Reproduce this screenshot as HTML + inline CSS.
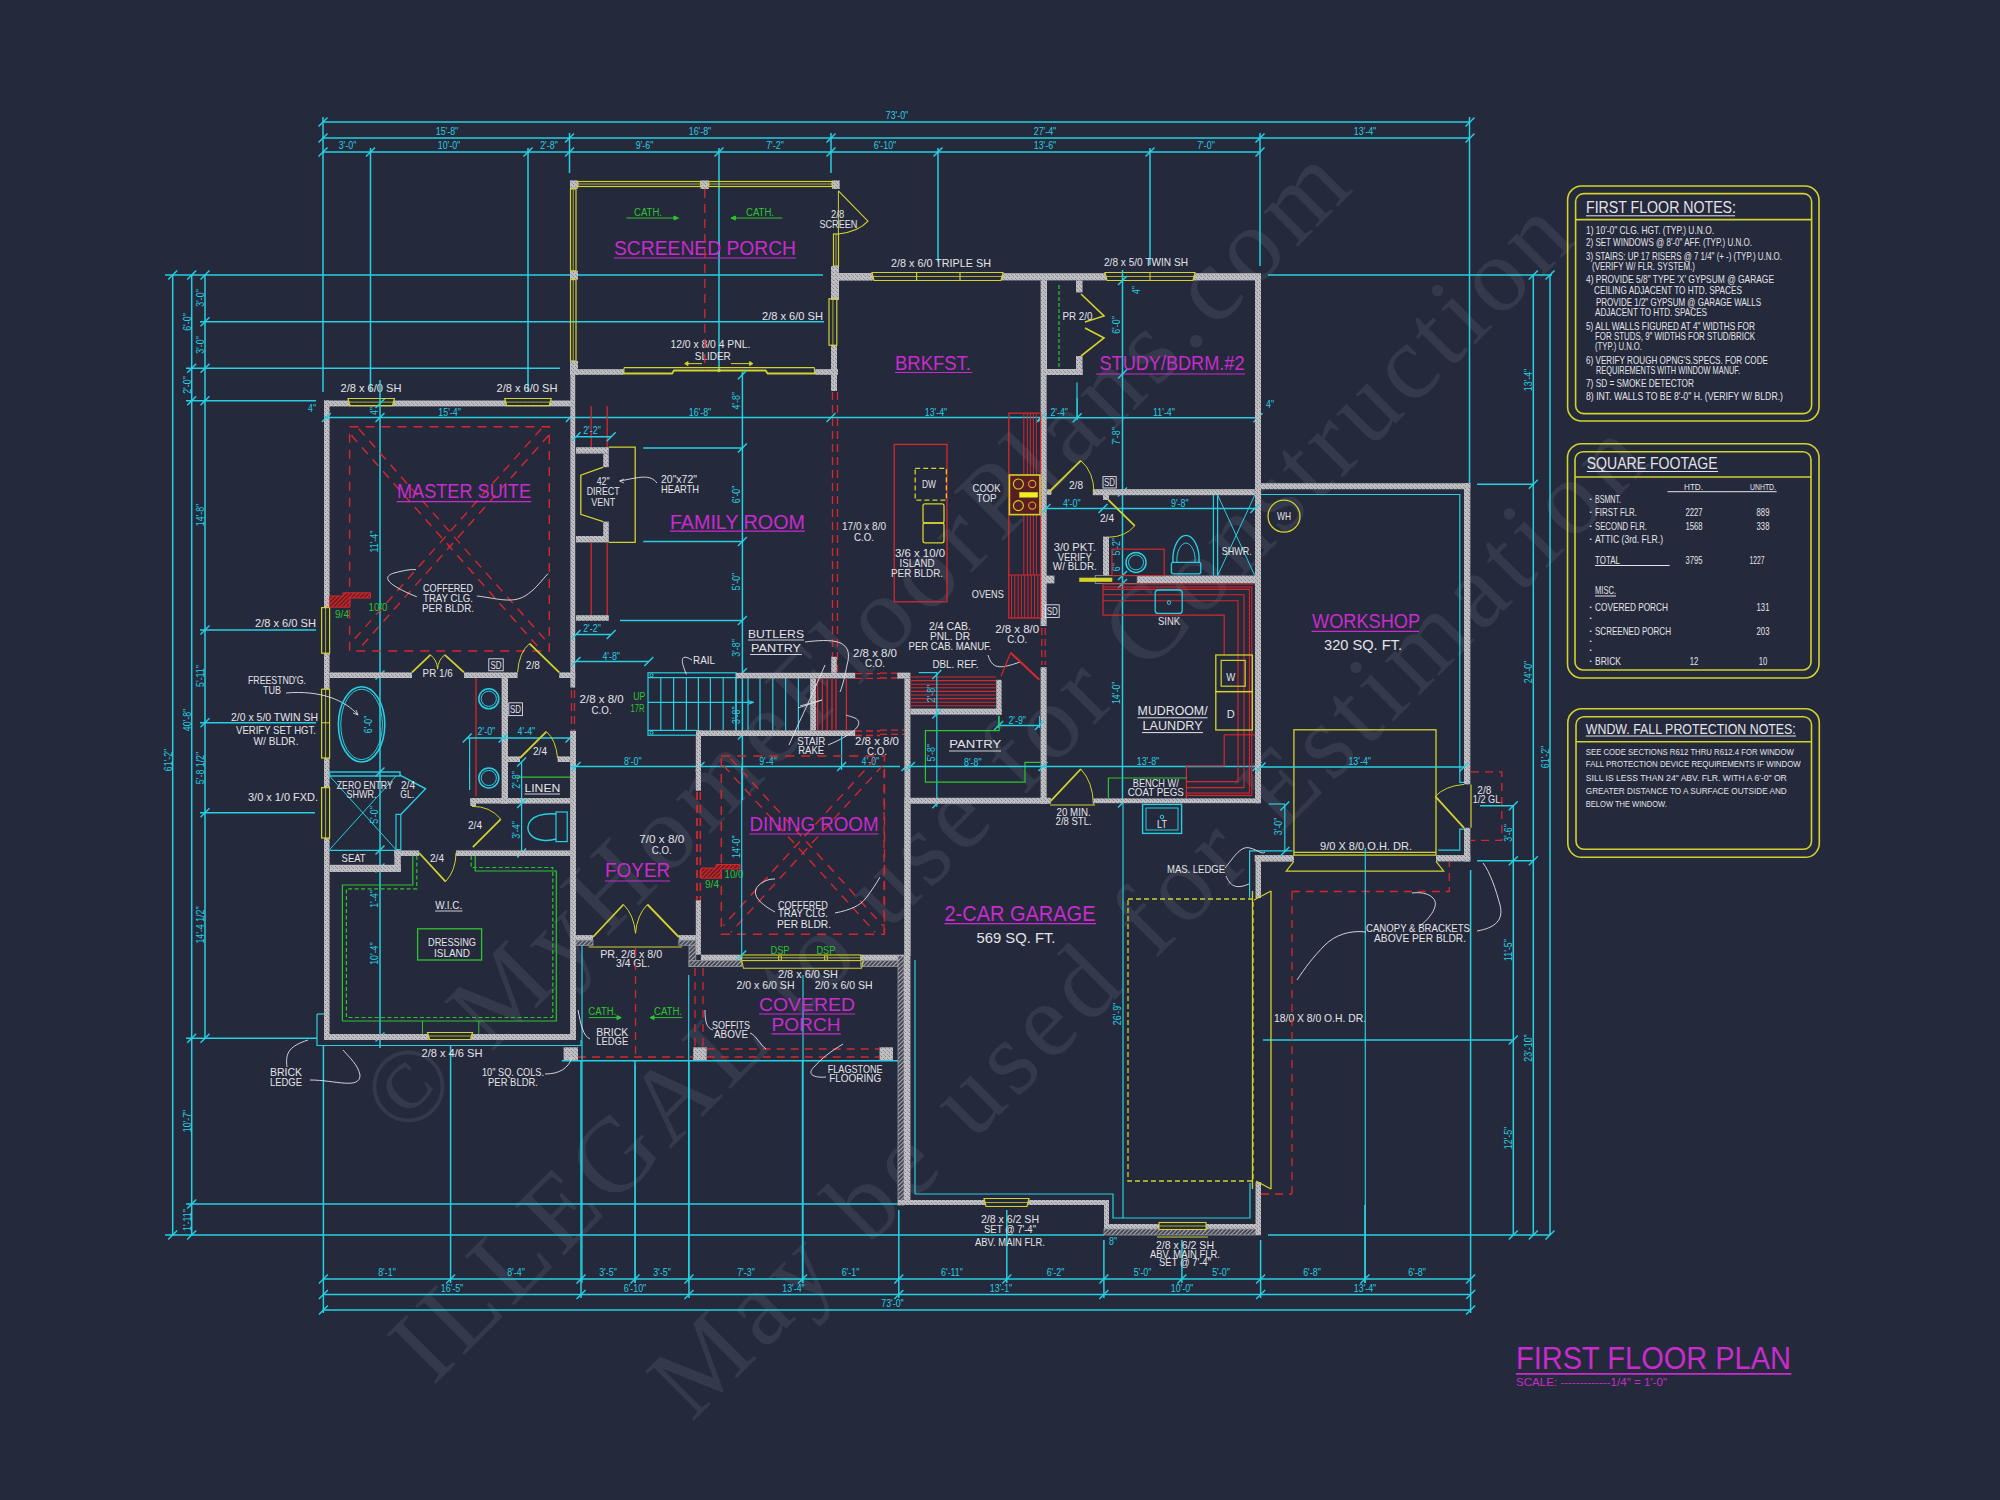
<!DOCTYPE html>
<html><head><meta charset="utf-8"><style>
html,body{margin:0;padding:0;background:#24293c;width:2000px;height:1500px;overflow:hidden}
svg{display:block}
text{font-family:"Liberation Sans",sans-serif}
.wm text{font-family:"Liberation Serif",serif}
</style></head><body>
<svg width="2000" height="1500" viewBox="0 0 2000 1500">
<defs>
<pattern id="st" width="4" height="4" patternUnits="userSpaceOnUse">
<rect width="4" height="4" fill="#bfbfc3"/><rect x="1" y="0" width="1" height="1" fill="#808088"/><rect x="3" y="2" width="1" height="1" fill="#8a8a90"/><rect x="0" y="3" width="1" height="1" fill="#9a9aa0"/>
</pattern>
<pattern id="ht" width="3" height="3" patternUnits="userSpaceOnUse" patternTransform="rotate(45)">
<rect width="3" height="3" fill="#3a3d4c"/><rect width="1.2" height="3" fill="#a8a8ae"/>
</pattern>
<pattern id="rh" width="3" height="3" patternUnits="userSpaceOnUse" patternTransform="rotate(45)"><rect width="3" height="3" fill="#5a1c24"/><rect width="1.3" height="3" fill="#e02828"/></pattern>
</defs>
<rect width="2000" height="1500" fill="#24293c"/>
<g class="wm" font-size="106" fill="#c4c8dc" opacity="0.10">
<text letter-spacing="7.68" transform="translate(404.6 1139.6) rotate(-45)">© MyHomeFloorPlans.com</text>
<text letter-spacing="5.8" transform="translate(432.9 1386.4) rotate(-45)">ILLEGAL to use for Construction</text>
<text letter-spacing="7.15" transform="translate(692.1 1422.7) rotate(-45)">May be used for Estimation</text>
</g>
<line x1="323" y1="122" x2="1470" y2="122" stroke="#27cfe0" stroke-width="1.5"/>
<line x1="318.5" y1="126.5" x2="327.5" y2="117.5" stroke="#27cfe0" stroke-width="1.4"/>
<line x1="1465.5" y1="126.5" x2="1474.5" y2="117.5" stroke="#27cfe0" stroke-width="1.4"/>
<text x="897" y="119.3" font-size="10.5" fill="#27cfe0" text-anchor="middle" textLength="22.5" lengthAdjust="spacingAndGlyphs">73'-0"</text>
<line x1="323" y1="138" x2="1470" y2="138" stroke="#27cfe0" stroke-width="1.5"/>
<line x1="318.5" y1="142.5" x2="327.5" y2="133.5" stroke="#27cfe0" stroke-width="1.4"/>
<line x1="565" y1="142.5" x2="574" y2="133.5" stroke="#27cfe0" stroke-width="1.4"/>
<line x1="826.5" y1="142.5" x2="835.5" y2="133.5" stroke="#27cfe0" stroke-width="1.4"/>
<line x1="1255.5" y1="142.5" x2="1264.5" y2="133.5" stroke="#27cfe0" stroke-width="1.4"/>
<line x1="1465.5" y1="142.5" x2="1474.5" y2="133.5" stroke="#27cfe0" stroke-width="1.4"/>
<text x="447" y="135.3" font-size="10.5" fill="#27cfe0" text-anchor="middle" textLength="22.5" lengthAdjust="spacingAndGlyphs">15'-8"</text>
<text x="700" y="135.3" font-size="10.5" fill="#27cfe0" text-anchor="middle" textLength="22.5" lengthAdjust="spacingAndGlyphs">16'-8"</text>
<text x="1045" y="135.3" font-size="10.5" fill="#27cfe0" text-anchor="middle" textLength="22.5" lengthAdjust="spacingAndGlyphs">27'-4"</text>
<text x="1365" y="135.3" font-size="10.5" fill="#27cfe0" text-anchor="middle" textLength="22.5" lengthAdjust="spacingAndGlyphs">13'-4"</text>
<line x1="323" y1="152" x2="1260" y2="152" stroke="#27cfe0" stroke-width="1.5"/>
<line x1="318.5" y1="156.5" x2="327.5" y2="147.5" stroke="#27cfe0" stroke-width="1.4"/>
<line x1="366" y1="156.5" x2="375" y2="147.5" stroke="#27cfe0" stroke-width="1.4"/>
<line x1="523.5" y1="156.5" x2="532.5" y2="147.5" stroke="#27cfe0" stroke-width="1.4"/>
<line x1="565" y1="156.5" x2="574" y2="147.5" stroke="#27cfe0" stroke-width="1.4"/>
<line x1="714.5" y1="156.5" x2="723.5" y2="147.5" stroke="#27cfe0" stroke-width="1.4"/>
<line x1="826.5" y1="156.5" x2="835.5" y2="147.5" stroke="#27cfe0" stroke-width="1.4"/>
<line x1="933.5" y1="156.5" x2="942.5" y2="147.5" stroke="#27cfe0" stroke-width="1.4"/>
<line x1="1145.5" y1="156.5" x2="1154.5" y2="147.5" stroke="#27cfe0" stroke-width="1.4"/>
<line x1="1255.5" y1="156.5" x2="1264.5" y2="147.5" stroke="#27cfe0" stroke-width="1.4"/>
<text x="347.5" y="149.3" font-size="10.5" fill="#27cfe0" text-anchor="middle" textLength="17.6" lengthAdjust="spacingAndGlyphs">3'-0"</text>
<text x="449" y="149.3" font-size="10.5" fill="#27cfe0" text-anchor="middle" textLength="22.5" lengthAdjust="spacingAndGlyphs">10'-0"</text>
<text x="549" y="149.3" font-size="10.5" fill="#27cfe0" text-anchor="middle" textLength="17.6" lengthAdjust="spacingAndGlyphs">2'-8"</text>
<text x="644.5" y="149.3" font-size="10.5" fill="#27cfe0" text-anchor="middle" textLength="17.6" lengthAdjust="spacingAndGlyphs">9'-6"</text>
<text x="775" y="149.3" font-size="10.5" fill="#27cfe0" text-anchor="middle" textLength="17.6" lengthAdjust="spacingAndGlyphs">7'-2"</text>
<text x="885" y="149.3" font-size="10.5" fill="#27cfe0" text-anchor="middle" textLength="22.5" lengthAdjust="spacingAndGlyphs">6'-10"</text>
<text x="1045" y="149.3" font-size="10.5" fill="#27cfe0" text-anchor="middle" textLength="22.5" lengthAdjust="spacingAndGlyphs">13'-6"</text>
<text x="1206" y="149.3" font-size="10.5" fill="#27cfe0" text-anchor="middle" textLength="17.6" lengthAdjust="spacingAndGlyphs">7'-0"</text>
<line x1="323" y1="117" x2="323" y2="392" stroke="#27cfe0" stroke-width="1.5"/>
<line x1="370.5" y1="148" x2="370.5" y2="392" stroke="#27cfe0" stroke-width="1.5"/>
<line x1="528" y1="148" x2="528" y2="392" stroke="#27cfe0" stroke-width="1.5"/>
<line x1="569.5" y1="133" x2="569.5" y2="173" stroke="#27cfe0" stroke-width="1.5"/>
<line x1="719" y1="148" x2="719" y2="370" stroke="#27cfe0" stroke-width="1.5"/>
<line x1="831" y1="133" x2="831" y2="173" stroke="#27cfe0" stroke-width="1.5"/>
<line x1="938" y1="148" x2="938" y2="262" stroke="#27cfe0" stroke-width="1.5"/>
<line x1="1150" y1="148" x2="1150" y2="265" stroke="#27cfe0" stroke-width="1.5"/>
<line x1="1260" y1="133" x2="1260" y2="266" stroke="#27cfe0" stroke-width="1.5"/>
<line x1="1469.5" y1="117" x2="1469.5" y2="484" stroke="#27cfe0" stroke-width="1.5"/>
<line x1="172.7" y1="275" x2="172.7" y2="1235" stroke="#27cfe0" stroke-width="1.5"/>
<line x1="168.2" y1="279.5" x2="177.2" y2="270.5" stroke="#27cfe0" stroke-width="1.4"/>
<line x1="168.2" y1="1239.5" x2="177.2" y2="1230.5" stroke="#27cfe0" stroke-width="1.4"/>
<text x="171.5" y="760" font-size="10.5" fill="#27cfe0" text-anchor="middle" transform="rotate(-90 171.5 760)" textLength="22.5" lengthAdjust="spacingAndGlyphs">61'-2"</text>
<line x1="191.7" y1="275" x2="191.7" y2="1235" stroke="#27cfe0" stroke-width="1.5"/>
<line x1="187.2" y1="279.5" x2="196.2" y2="270.5" stroke="#27cfe0" stroke-width="1.4"/>
<line x1="187.2" y1="372.8" x2="196.2" y2="363.8" stroke="#27cfe0" stroke-width="1.4"/>
<line x1="187.2" y1="405.2" x2="196.2" y2="396.2" stroke="#27cfe0" stroke-width="1.4"/>
<line x1="187.2" y1="1042.8" x2="196.2" y2="1033.8" stroke="#27cfe0" stroke-width="1.4"/>
<line x1="187.2" y1="1208.5" x2="196.2" y2="1199.5" stroke="#27cfe0" stroke-width="1.4"/>
<line x1="187.2" y1="1239.5" x2="196.2" y2="1230.5" stroke="#27cfe0" stroke-width="1.4"/>
<text x="190.5" y="322" font-size="10.5" fill="#27cfe0" text-anchor="middle" transform="rotate(-90 190.5 322)" textLength="17.6" lengthAdjust="spacingAndGlyphs">6'-0"</text>
<text x="190.5" y="385" font-size="10.5" fill="#27cfe0" text-anchor="middle" transform="rotate(-90 190.5 385)" textLength="17.6" lengthAdjust="spacingAndGlyphs">2'-0"</text>
<text x="190.5" y="720" font-size="10.5" fill="#27cfe0" text-anchor="middle" transform="rotate(-90 190.5 720)" textLength="22.5" lengthAdjust="spacingAndGlyphs">40'-8"</text>
<text x="190.5" y="1121" font-size="10.5" fill="#27cfe0" text-anchor="middle" transform="rotate(-90 190.5 1121)" textLength="22.5" lengthAdjust="spacingAndGlyphs">10'-7"</text>
<text x="190.5" y="1220" font-size="10.5" fill="#27cfe0" text-anchor="middle" transform="rotate(-90 190.5 1220)" textLength="21.8" lengthAdjust="spacingAndGlyphs">1'-11"</text>
<line x1="205" y1="275" x2="205" y2="1038.3" stroke="#27cfe0" stroke-width="1.5"/>
<line x1="200.5" y1="279.5" x2="209.5" y2="270.5" stroke="#27cfe0" stroke-width="1.4"/>
<line x1="200.5" y1="326.2" x2="209.5" y2="317.2" stroke="#27cfe0" stroke-width="1.4"/>
<line x1="200.5" y1="372.8" x2="209.5" y2="363.8" stroke="#27cfe0" stroke-width="1.4"/>
<line x1="200.5" y1="405.2" x2="209.5" y2="396.2" stroke="#27cfe0" stroke-width="1.4"/>
<line x1="200.5" y1="634.5" x2="209.5" y2="625.5" stroke="#27cfe0" stroke-width="1.4"/>
<line x1="200.5" y1="727.2" x2="209.5" y2="718.2" stroke="#27cfe0" stroke-width="1.4"/>
<line x1="200.5" y1="817.2" x2="209.5" y2="808.2" stroke="#27cfe0" stroke-width="1.4"/>
<line x1="200.5" y1="1042.8" x2="209.5" y2="1033.8" stroke="#27cfe0" stroke-width="1.4"/>
<text x="203.8" y="298" font-size="10.5" fill="#27cfe0" text-anchor="middle" transform="rotate(-90 203.8 298)" textLength="17.6" lengthAdjust="spacingAndGlyphs">3'-0"</text>
<text x="203.8" y="345" font-size="10.5" fill="#27cfe0" text-anchor="middle" transform="rotate(-90 203.8 345)" textLength="17.6" lengthAdjust="spacingAndGlyphs">3'-0"</text>
<text x="203.8" y="515" font-size="10.5" fill="#27cfe0" text-anchor="middle" transform="rotate(-90 203.8 515)" textLength="22.5" lengthAdjust="spacingAndGlyphs">14'-8"</text>
<text x="203.8" y="676" font-size="10.5" fill="#27cfe0" text-anchor="middle" transform="rotate(-90 203.8 676)" textLength="21.8" lengthAdjust="spacingAndGlyphs">5'-11"</text>
<text x="203.8" y="768" font-size="10.5" fill="#27cfe0" text-anchor="middle" transform="rotate(-90 203.8 768)" textLength="32.3" lengthAdjust="spacingAndGlyphs">5'-8 1/2"</text>
<text x="203.8" y="925" font-size="10.5" fill="#27cfe0" text-anchor="middle" transform="rotate(-90 203.8 925)" textLength="37.2" lengthAdjust="spacingAndGlyphs">14'-4 1/2"</text>
<line x1="165" y1="275" x2="823" y2="275" stroke="#27cfe0" stroke-width="1.5"/>
<line x1="200" y1="321.7" x2="824" y2="321.7" stroke="#27cfe0" stroke-width="1.5"/>
<line x1="186" y1="368.3" x2="560" y2="368.3" stroke="#27cfe0" stroke-width="1.5"/>
<line x1="186" y1="400.7" x2="316" y2="400.7" stroke="#27cfe0" stroke-width="1.5"/>
<line x1="200" y1="630" x2="316" y2="630" stroke="#27cfe0" stroke-width="1.5"/>
<line x1="200" y1="722.7" x2="316" y2="722.7" stroke="#27cfe0" stroke-width="1.5"/>
<line x1="200" y1="812.7" x2="315" y2="812.7" stroke="#27cfe0" stroke-width="1.5"/>
<line x1="186" y1="1038.3" x2="317" y2="1038.3" stroke="#27cfe0" stroke-width="1.5"/>
<line x1="186" y1="1204" x2="898" y2="1204" stroke="#27cfe0" stroke-width="1.5"/>
<line x1="165" y1="1234.9" x2="1104" y2="1234.9" stroke="#27cfe0" stroke-width="1.5"/>
<line x1="323.4" y1="1279" x2="1470.6" y2="1279" stroke="#27cfe0" stroke-width="1.5"/>
<line x1="318.9" y1="1283.5" x2="327.9" y2="1274.5" stroke="#27cfe0" stroke-width="1.4"/>
<line x1="446.1" y1="1283.5" x2="455.1" y2="1274.5" stroke="#27cfe0" stroke-width="1.4"/>
<line x1="576.5" y1="1283.5" x2="585.5" y2="1274.5" stroke="#27cfe0" stroke-width="1.4"/>
<line x1="630.5" y1="1283.5" x2="639.5" y2="1274.5" stroke="#27cfe0" stroke-width="1.4"/>
<line x1="684.5" y1="1283.5" x2="693.5" y2="1274.5" stroke="#27cfe0" stroke-width="1.4"/>
<line x1="798" y1="1283.5" x2="807" y2="1274.5" stroke="#27cfe0" stroke-width="1.4"/>
<line x1="894.3" y1="1283.5" x2="903.3" y2="1274.5" stroke="#27cfe0" stroke-width="1.4"/>
<line x1="1002.3" y1="1283.5" x2="1011.3" y2="1274.5" stroke="#27cfe0" stroke-width="1.4"/>
<line x1="1099.4" y1="1283.5" x2="1108.4" y2="1274.5" stroke="#27cfe0" stroke-width="1.4"/>
<line x1="1177.4" y1="1283.5" x2="1186.4" y2="1274.5" stroke="#27cfe0" stroke-width="1.4"/>
<line x1="1256.1" y1="1283.5" x2="1265.1" y2="1274.5" stroke="#27cfe0" stroke-width="1.4"/>
<line x1="1360.4" y1="1283.5" x2="1369.4" y2="1274.5" stroke="#27cfe0" stroke-width="1.4"/>
<line x1="1466.1" y1="1283.5" x2="1475.1" y2="1274.5" stroke="#27cfe0" stroke-width="1.4"/>
<text x="387" y="1276.3" font-size="10.5" fill="#27cfe0" text-anchor="middle" textLength="17.6" lengthAdjust="spacingAndGlyphs">8'-1"</text>
<text x="516" y="1276.3" font-size="10.5" fill="#27cfe0" text-anchor="middle" textLength="17.6" lengthAdjust="spacingAndGlyphs">8'-4"</text>
<text x="608" y="1276.3" font-size="10.5" fill="#27cfe0" text-anchor="middle" textLength="17.6" lengthAdjust="spacingAndGlyphs">3'-5"</text>
<text x="662" y="1276.3" font-size="10.5" fill="#27cfe0" text-anchor="middle" textLength="17.6" lengthAdjust="spacingAndGlyphs">3'-5"</text>
<text x="746" y="1276.3" font-size="10.5" fill="#27cfe0" text-anchor="middle" textLength="17.6" lengthAdjust="spacingAndGlyphs">7'-3"</text>
<text x="850.5" y="1276.3" font-size="10.5" fill="#27cfe0" text-anchor="middle" textLength="17.6" lengthAdjust="spacingAndGlyphs">6'-1"</text>
<text x="952" y="1276.3" font-size="10.5" fill="#27cfe0" text-anchor="middle" textLength="21.8" lengthAdjust="spacingAndGlyphs">6'-11"</text>
<text x="1055.5" y="1276.3" font-size="10.5" fill="#27cfe0" text-anchor="middle" textLength="17.6" lengthAdjust="spacingAndGlyphs">6'-2"</text>
<text x="1142.5" y="1276.3" font-size="10.5" fill="#27cfe0" text-anchor="middle" textLength="17.6" lengthAdjust="spacingAndGlyphs">5'-0"</text>
<text x="1221" y="1276.3" font-size="10.5" fill="#27cfe0" text-anchor="middle" textLength="17.6" lengthAdjust="spacingAndGlyphs">5'-0"</text>
<text x="1312" y="1276.3" font-size="10.5" fill="#27cfe0" text-anchor="middle" textLength="17.6" lengthAdjust="spacingAndGlyphs">6'-8"</text>
<text x="1417" y="1276.3" font-size="10.5" fill="#27cfe0" text-anchor="middle" textLength="17.6" lengthAdjust="spacingAndGlyphs">6'-8"</text>
<line x1="323.4" y1="1294.6" x2="1470.6" y2="1294.6" stroke="#27cfe0" stroke-width="1.5"/>
<line x1="318.9" y1="1299.1" x2="327.9" y2="1290.1" stroke="#27cfe0" stroke-width="1.4"/>
<line x1="576.5" y1="1299.1" x2="585.5" y2="1290.1" stroke="#27cfe0" stroke-width="1.4"/>
<line x1="684.5" y1="1299.1" x2="693.5" y2="1290.1" stroke="#27cfe0" stroke-width="1.4"/>
<line x1="894.3" y1="1299.1" x2="903.3" y2="1290.1" stroke="#27cfe0" stroke-width="1.4"/>
<line x1="1099.4" y1="1299.1" x2="1108.4" y2="1290.1" stroke="#27cfe0" stroke-width="1.4"/>
<line x1="1256.1" y1="1299.1" x2="1265.1" y2="1290.1" stroke="#27cfe0" stroke-width="1.4"/>
<line x1="1466.1" y1="1299.1" x2="1475.1" y2="1290.1" stroke="#27cfe0" stroke-width="1.4"/>
<text x="452" y="1291.9" font-size="10.5" fill="#27cfe0" text-anchor="middle" textLength="22.5" lengthAdjust="spacingAndGlyphs">16'-5"</text>
<text x="635" y="1291.9" font-size="10.5" fill="#27cfe0" text-anchor="middle" textLength="22.5" lengthAdjust="spacingAndGlyphs">6'-10"</text>
<text x="793.5" y="1291.9" font-size="10.5" fill="#27cfe0" text-anchor="middle" textLength="22.5" lengthAdjust="spacingAndGlyphs">13'-4"</text>
<text x="1001" y="1291.9" font-size="10.5" fill="#27cfe0" text-anchor="middle" textLength="22.5" lengthAdjust="spacingAndGlyphs">13'-1"</text>
<text x="1182" y="1291.9" font-size="10.5" fill="#27cfe0" text-anchor="middle" textLength="22.5" lengthAdjust="spacingAndGlyphs">10'-0"</text>
<text x="1365" y="1291.9" font-size="10.5" fill="#27cfe0" text-anchor="middle" textLength="22.5" lengthAdjust="spacingAndGlyphs">13'-4"</text>
<line x1="323.4" y1="1310" x2="1470.6" y2="1310" stroke="#27cfe0" stroke-width="1.5"/>
<line x1="318.9" y1="1314.5" x2="327.9" y2="1305.5" stroke="#27cfe0" stroke-width="1.4"/>
<line x1="1466.1" y1="1314.5" x2="1475.1" y2="1305.5" stroke="#27cfe0" stroke-width="1.4"/>
<text x="892.5" y="1307.3" font-size="10.5" fill="#27cfe0" text-anchor="middle" textLength="22.5" lengthAdjust="spacingAndGlyphs">73'-0"</text>
<line x1="323.4" y1="1045" x2="323.4" y2="1283" stroke="#27cfe0" stroke-width="1.5"/>
<line x1="450.6" y1="1045" x2="450.6" y2="1283" stroke="#27cfe0" stroke-width="1.5"/>
<line x1="581" y1="1060" x2="581" y2="1283" stroke="#27cfe0" stroke-width="1.5"/>
<line x1="635" y1="1060" x2="635" y2="1283" stroke="#27cfe0" stroke-width="1.5"/>
<line x1="689" y1="1060" x2="689" y2="1283" stroke="#27cfe0" stroke-width="1.5"/>
<line x1="802.5" y1="1060" x2="802.5" y2="1283" stroke="#27cfe0" stroke-width="1.5"/>
<line x1="898.8" y1="1210" x2="898.8" y2="1283" stroke="#27cfe0" stroke-width="1.5"/>
<line x1="1006.8" y1="1210" x2="1006.8" y2="1283" stroke="#27cfe0" stroke-width="1.5"/>
<line x1="1103.9" y1="1240" x2="1103.9" y2="1283" stroke="#27cfe0" stroke-width="1.5"/>
<line x1="1181.9" y1="1240" x2="1181.9" y2="1283" stroke="#27cfe0" stroke-width="1.5"/>
<line x1="1260.6" y1="1240" x2="1260.6" y2="1283" stroke="#27cfe0" stroke-width="1.5"/>
<line x1="1364.9" y1="1205" x2="1364.9" y2="1283" stroke="#27cfe0" stroke-width="1.5"/>
<line x1="1470.6" y1="870" x2="1470.6" y2="1283" stroke="#27cfe0" stroke-width="1.5"/>
<line x1="323.4" y1="1283" x2="323.4" y2="1298" stroke="#27cfe0" stroke-width="1.5"/>
<line x1="581" y1="1283" x2="581" y2="1298" stroke="#27cfe0" stroke-width="1.5"/>
<line x1="689" y1="1283" x2="689" y2="1298" stroke="#27cfe0" stroke-width="1.5"/>
<line x1="898.8" y1="1283" x2="898.8" y2="1298" stroke="#27cfe0" stroke-width="1.5"/>
<line x1="1103.9" y1="1283" x2="1103.9" y2="1298" stroke="#27cfe0" stroke-width="1.5"/>
<line x1="1260.6" y1="1283" x2="1260.6" y2="1298" stroke="#27cfe0" stroke-width="1.5"/>
<line x1="1470.6" y1="1283" x2="1470.6" y2="1298" stroke="#27cfe0" stroke-width="1.5"/>
<line x1="323.4" y1="1298" x2="323.4" y2="1313" stroke="#27cfe0" stroke-width="1.5"/>
<line x1="1470.6" y1="1298" x2="1470.6" y2="1313" stroke="#27cfe0" stroke-width="1.5"/>
<line x1="1513.3" y1="805.7" x2="1513.3" y2="1235" stroke="#27cfe0" stroke-width="1.5"/>
<line x1="1508.8" y1="810.2" x2="1517.8" y2="801.2" stroke="#27cfe0" stroke-width="1.4"/>
<line x1="1508.8" y1="865.2" x2="1517.8" y2="856.2" stroke="#27cfe0" stroke-width="1.4"/>
<line x1="1508.8" y1="1044.5" x2="1517.8" y2="1035.5" stroke="#27cfe0" stroke-width="1.4"/>
<line x1="1508.8" y1="1239.5" x2="1517.8" y2="1230.5" stroke="#27cfe0" stroke-width="1.4"/>
<text x="1512.1" y="833" font-size="10.5" fill="#27cfe0" text-anchor="middle" transform="rotate(-90 1512.1 833)" textLength="17.6" lengthAdjust="spacingAndGlyphs">3'-6"</text>
<text x="1512.1" y="950" font-size="10.5" fill="#27cfe0" text-anchor="middle" transform="rotate(-90 1512.1 950)" textLength="21.8" lengthAdjust="spacingAndGlyphs">11'-5"</text>
<text x="1512.1" y="1138" font-size="10.5" fill="#27cfe0" text-anchor="middle" transform="rotate(-90 1512.1 1138)" textLength="22.5" lengthAdjust="spacingAndGlyphs">12'-5"</text>
<line x1="1533.3" y1="275" x2="1533.3" y2="1235" stroke="#27cfe0" stroke-width="1.5"/>
<line x1="1528.8" y1="279.5" x2="1537.8" y2="270.5" stroke="#27cfe0" stroke-width="1.4"/>
<line x1="1528.8" y1="488.8" x2="1537.8" y2="479.8" stroke="#27cfe0" stroke-width="1.4"/>
<line x1="1528.8" y1="865.2" x2="1537.8" y2="856.2" stroke="#27cfe0" stroke-width="1.4"/>
<line x1="1528.8" y1="1239.5" x2="1537.8" y2="1230.5" stroke="#27cfe0" stroke-width="1.4"/>
<text x="1532.1" y="380" font-size="10.5" fill="#27cfe0" text-anchor="middle" transform="rotate(-90 1532.1 380)" textLength="22.5" lengthAdjust="spacingAndGlyphs">13'-4"</text>
<text x="1532.1" y="672" font-size="10.5" fill="#27cfe0" text-anchor="middle" transform="rotate(-90 1532.1 672)" textLength="22.5" lengthAdjust="spacingAndGlyphs">24'-0"</text>
<text x="1532.1" y="1048" font-size="10.5" fill="#27cfe0" text-anchor="middle" transform="rotate(-90 1532.1 1048)" textLength="27.4" lengthAdjust="spacingAndGlyphs">23'-10"</text>
<line x1="1550" y1="275" x2="1550" y2="1235" stroke="#27cfe0" stroke-width="1.5"/>
<line x1="1545.5" y1="279.5" x2="1554.5" y2="270.5" stroke="#27cfe0" stroke-width="1.4"/>
<line x1="1545.5" y1="1239.5" x2="1554.5" y2="1230.5" stroke="#27cfe0" stroke-width="1.4"/>
<text x="1548.8" y="757" font-size="10.5" fill="#27cfe0" text-anchor="middle" transform="rotate(-90 1548.8 757)" textLength="22.5" lengthAdjust="spacingAndGlyphs">61'-2"</text>
<line x1="1268" y1="275" x2="1552" y2="275" stroke="#27cfe0" stroke-width="1.5"/>
<line x1="1477" y1="484.3" x2="1533" y2="484.3" stroke="#27cfe0" stroke-width="1.5"/>
<line x1="1480" y1="805.7" x2="1513" y2="805.7" stroke="#27cfe0" stroke-width="1.5"/>
<line x1="1477" y1="860.7" x2="1533" y2="860.7" stroke="#27cfe0" stroke-width="1.5"/>
<line x1="1263" y1="1040" x2="1513" y2="1040" stroke="#27cfe0" stroke-width="1.5"/>
<line x1="1268" y1="1235" x2="1550" y2="1235" stroke="#27cfe0" stroke-width="1.5"/>
<rect x="1567.6" y="186" width="251.4" height="235" fill="none" stroke="#d2d22c" stroke-width="1.6" rx="14"/>
<rect x="1575.6" y="193.6" width="236" height="220" fill="none" stroke="#d2d22c" stroke-width="1.6" rx="8"/>
<line x1="1575.6" y1="219.6" x2="1811.6" y2="219.6" stroke="#d2d22c" stroke-width="1.6"/>
<text x="1586" y="213" font-size="16.5" fill="#e4e4e8" text-anchor="start" textLength="150" lengthAdjust="spacingAndGlyphs">FIRST FLOOR NOTES:</text>
<line x1="1586" y1="215.8" x2="1735" y2="215.8" stroke="#e4e4e8" stroke-width="1"/>
<text x="1586" y="233.6" font-size="10.5" fill="#e4e4e8" text-anchor="start" textLength="128" lengthAdjust="spacingAndGlyphs">1) 10'-0"  CLG. HGT. (TYP.) U.N.O.</text>
<text x="1586" y="246.4" font-size="10.5" fill="#e4e4e8" text-anchor="start" textLength="166" lengthAdjust="spacingAndGlyphs">2) SET WINDOWS @ 8'-0" AFF. (TYP.) U.N.O.</text>
<text x="1586" y="259.6" font-size="10.5" fill="#e4e4e8" text-anchor="start" textLength="196" lengthAdjust="spacingAndGlyphs">3) STAIRS: UP 17 RISERS @ 7 1/4" (+ -)  (TYP.) U.N.O.</text>
<text x="1592" y="269.6" font-size="10.5" fill="#e4e4e8" text-anchor="start" textLength="103" lengthAdjust="spacingAndGlyphs">(VERIFY W/ FLR. SYSTEM.)</text>
<text x="1586" y="283" font-size="10.5" fill="#e4e4e8" text-anchor="start" textLength="188" lengthAdjust="spacingAndGlyphs">4) PROVIDE 5/8" TYPE 'X' GYPSUM @ GARAGE</text>
<text x="1594" y="293.6" font-size="10.5" fill="#e4e4e8" text-anchor="start" textLength="148" lengthAdjust="spacingAndGlyphs">CEILING ADJACENT TO HTD. SPACES</text>
<text x="1596" y="305.6" font-size="10.5" fill="#e4e4e8" text-anchor="start" textLength="165" lengthAdjust="spacingAndGlyphs">PROVIDE 1/2" GYPSUM @ GARAGE WALLS</text>
<text x="1595" y="316" font-size="10.5" fill="#e4e4e8" text-anchor="start" textLength="112" lengthAdjust="spacingAndGlyphs">ADJACENT TO HTD. SPACES</text>
<text x="1586" y="330.4" font-size="10.5" fill="#e4e4e8" text-anchor="start" textLength="169" lengthAdjust="spacingAndGlyphs">5) ALL WALLS FIGURED AT 4" WIDTHS FOR</text>
<text x="1595" y="340" font-size="10.5" fill="#e4e4e8" text-anchor="start" textLength="160" lengthAdjust="spacingAndGlyphs">FOR STUDS, 9" WIDTHS FOR STUD/BRICK</text>
<text x="1595" y="350.4" font-size="10.5" fill="#e4e4e8" text-anchor="start" textLength="47" lengthAdjust="spacingAndGlyphs">(TYP.) U.N.O.</text>
<text x="1586" y="364" font-size="10.5" fill="#e4e4e8" text-anchor="start" textLength="182" lengthAdjust="spacingAndGlyphs">6) VERIFY ROUGH OPNG'S.SPECS. FOR CODE</text>
<text x="1596" y="374.4" font-size="10.5" fill="#e4e4e8" text-anchor="start" textLength="144" lengthAdjust="spacingAndGlyphs">REQUIREMENTS WITH WINDOW MANUF.</text>
<text x="1586" y="387" font-size="10.5" fill="#e4e4e8" text-anchor="start" textLength="108" lengthAdjust="spacingAndGlyphs">7) SD = SMOKE DETECTOR</text>
<text x="1586" y="400" font-size="10.5" fill="#e4e4e8" text-anchor="start" textLength="197" lengthAdjust="spacingAndGlyphs">8)  INT. WALLS TO BE 8'-0" H. (VERIFY W/ BLDR.)</text>
<rect x="1567.5" y="443.7" width="251.5" height="234.3" fill="none" stroke="#d2d22c" stroke-width="1.6" rx="14"/>
<rect x="1575" y="451.7" width="236" height="218.3" fill="none" stroke="#d2d22c" stroke-width="1.6" rx="8"/>
<line x1="1575" y1="477" x2="1811" y2="477" stroke="#d2d22c" stroke-width="1.6"/>
<text x="1586.7" y="469" font-size="16.3" fill="#e4e4e8" text-anchor="start" textLength="131" lengthAdjust="spacingAndGlyphs">SQUARE FOOTAGE</text>
<line x1="1586.7" y1="471.5" x2="1718" y2="471.5" stroke="#e4e4e8" stroke-width="1"/>
<text x="1684" y="490" font-size="8.5" fill="#e4e4e8" text-anchor="start" textLength="19" lengthAdjust="spacingAndGlyphs">HTD.</text>
<text x="1750" y="490" font-size="8.5" fill="#e4e4e8" text-anchor="start" textLength="26" lengthAdjust="spacingAndGlyphs">UNHTD.</text>
<line x1="1667.5" y1="491.7" x2="1776.7" y2="491.7" stroke="#e4e4e8" stroke-width="1"/>
<text x="1590.5" y="501" font-size="6" fill="#e4e4e8" text-anchor="middle">•</text>
<text x="1595" y="503" font-size="10.5" fill="#e4e4e8" text-anchor="start" textLength="26" lengthAdjust="spacingAndGlyphs">BSMNT.</text>
<text x="1590.5" y="514.3" font-size="6" fill="#e4e4e8" text-anchor="middle">•</text>
<text x="1595" y="516.3" font-size="10.5" fill="#e4e4e8" text-anchor="start" textLength="42" lengthAdjust="spacingAndGlyphs">FIRST FLR.</text>
<text x="1694" y="516.3" font-size="10.5" fill="#e4e4e8" text-anchor="middle" textLength="17.2" lengthAdjust="spacingAndGlyphs">2227</text>
<text x="1763" y="516.3" font-size="10.5" fill="#e4e4e8" text-anchor="middle" textLength="12.9" lengthAdjust="spacingAndGlyphs">889</text>
<text x="1590.5" y="527.7" font-size="6" fill="#e4e4e8" text-anchor="middle">•</text>
<text x="1595" y="529.7" font-size="10.5" fill="#e4e4e8" text-anchor="start" textLength="52" lengthAdjust="spacingAndGlyphs">SECOND FLR.</text>
<text x="1694" y="529.7" font-size="10.5" fill="#e4e4e8" text-anchor="middle" textLength="17.2" lengthAdjust="spacingAndGlyphs">1568</text>
<text x="1763" y="529.7" font-size="10.5" fill="#e4e4e8" text-anchor="middle" textLength="12.9" lengthAdjust="spacingAndGlyphs">338</text>
<text x="1590.5" y="540.5" font-size="6" fill="#e4e4e8" text-anchor="middle">•</text>
<text x="1595" y="542.5" font-size="10.5" fill="#e4e4e8" text-anchor="start" textLength="68" lengthAdjust="spacingAndGlyphs">ATTIC (3rd. FLR.)</text>
<text x="1590.5" y="609" font-size="6" fill="#e4e4e8" text-anchor="middle">•</text>
<text x="1595" y="611" font-size="10.5" fill="#e4e4e8" text-anchor="start" textLength="73" lengthAdjust="spacingAndGlyphs">COVERED PORCH</text>
<text x="1763" y="611" font-size="10.5" fill="#e4e4e8" text-anchor="middle" textLength="12.9" lengthAdjust="spacingAndGlyphs">131</text>
<text x="1590.5" y="632.7" font-size="6" fill="#e4e4e8" text-anchor="middle">•</text>
<text x="1595" y="634.7" font-size="10.5" fill="#e4e4e8" text-anchor="start" textLength="76" lengthAdjust="spacingAndGlyphs">SCREENED PORCH</text>
<text x="1763" y="634.7" font-size="10.5" fill="#e4e4e8" text-anchor="middle" textLength="12.9" lengthAdjust="spacingAndGlyphs">203</text>
<text x="1590.5" y="663" font-size="6" fill="#e4e4e8" text-anchor="middle">•</text>
<text x="1595" y="665" font-size="10.5" fill="#e4e4e8" text-anchor="start" textLength="26" lengthAdjust="spacingAndGlyphs">BRICK</text>
<text x="1694" y="665" font-size="10.5" fill="#e4e4e8" text-anchor="middle" textLength="8.6" lengthAdjust="spacingAndGlyphs">12</text>
<text x="1763" y="665" font-size="10.5" fill="#e4e4e8" text-anchor="middle" textLength="8.6" lengthAdjust="spacingAndGlyphs">10</text>
<text x="1590.5" y="620" font-size="6" fill="#e4e4e8" text-anchor="middle">•</text>
<text x="1590.5" y="642.5" font-size="6" fill="#e4e4e8" text-anchor="middle">•</text>
<text x="1590.5" y="651.7" font-size="6" fill="#e4e4e8" text-anchor="middle">•</text>
<text x="1595" y="564" font-size="10.5" fill="#e4e4e8" text-anchor="start" textLength="25" lengthAdjust="spacingAndGlyphs">TOTAL</text>
<line x1="1595" y1="565.5" x2="1669.7" y2="565.5" stroke="#e4e4e8" stroke-width="1"/>
<text x="1694" y="564" font-size="10.5" fill="#e4e4e8" text-anchor="middle" textLength="17" lengthAdjust="spacingAndGlyphs">3795</text>
<text x="1757" y="564" font-size="10.5" fill="#e4e4e8" text-anchor="middle" textLength="15" lengthAdjust="spacingAndGlyphs">1227</text>
<text x="1595" y="594" font-size="10.5" fill="#e4e4e8" text-anchor="start" textLength="21" lengthAdjust="spacingAndGlyphs">MISC.</text>
<line x1="1595" y1="596" x2="1616" y2="596" stroke="#e4e4e8" stroke-width="1"/>
<rect x="1567.8" y="708.8" width="251.5" height="148.5" fill="none" stroke="#d2d22c" stroke-width="1.6" rx="14"/>
<rect x="1576" y="716.7" width="235.5" height="132.6" fill="none" stroke="#d2d22c" stroke-width="1.6" rx="8"/>
<line x1="1576" y1="741.8" x2="1811.5" y2="741.8" stroke="#d2d22c" stroke-width="1.6"/>
<text x="1585.8" y="733.5" font-size="14.5" fill="#e4e4e8" text-anchor="start" textLength="210" lengthAdjust="spacingAndGlyphs">WNDW. FALL PROTECTION NOTES:</text>
<line x1="1585.8" y1="736" x2="1796" y2="736" stroke="#e4e4e8" stroke-width="1"/>
<text x="1585.8" y="754.5" font-size="9.3" fill="#e4e4e8" text-anchor="start" textLength="208" lengthAdjust="spacingAndGlyphs">SEE CODE SECTIONS R612 THRU R612.4 FOR WINDOW</text>
<text x="1585.8" y="767.2" font-size="9.3" fill="#e4e4e8" text-anchor="start" textLength="215" lengthAdjust="spacingAndGlyphs">FALL PROTECTION DEVICE REQUIREMENTS IF WINDOW</text>
<text x="1585.8" y="780.8" font-size="9.3" fill="#e4e4e8" text-anchor="start" textLength="201" lengthAdjust="spacingAndGlyphs">SILL IS LESS THAN 24" ABV. FLR. WITH A 6'-0" OR</text>
<text x="1585.8" y="793.5" font-size="9.3" fill="#e4e4e8" text-anchor="start" textLength="201" lengthAdjust="spacingAndGlyphs">GREATER DISTANCE TO A SURFACE OUTSIDE AND</text>
<text x="1585.8" y="806.7" font-size="9.3" fill="#e4e4e8" text-anchor="start" textLength="81" lengthAdjust="spacingAndGlyphs">BELOW THE WINDOW.</text>
<text x="1516" y="1369" font-size="31" fill="#c82ccc" text-anchor="start" textLength="275" lengthAdjust="spacingAndGlyphs">FIRST FLOOR PLAN</text>
<line x1="1516" y1="1373.9" x2="1791.5" y2="1373.9" stroke="#c82ccc" stroke-width="1.6"/>
<text x="1516" y="1386" font-size="10.5" fill="#c82ccc" text-anchor="start" textLength="151" lengthAdjust="spacingAndGlyphs">SCALE: -------------1/4" = 1'-0"</text>
<rect x="570" y="180.4" width="8" height="8.6" fill="url(#st)"/>
<rect x="700.5" y="180.4" width="8.3" height="8.6" fill="url(#st)"/>
<rect x="832" y="180.4" width="7.7" height="8.6" fill="url(#st)"/>
<rect x="570" y="270.8" width="8" height="8.8" fill="url(#st)"/>
<rect x="578" y="181.5" width="122.5" height="5" fill="none" stroke="#d2d22c" stroke-width="1.2"/>
<line x1="578" y1="184" x2="700.5" y2="184" stroke="#d2d22c" stroke-width="0.8"/>
<rect x="708.8" y="181.5" width="123.2" height="5" fill="none" stroke="#d2d22c" stroke-width="1.2"/>
<line x1="708.8" y1="184" x2="832" y2="184" stroke="#d2d22c" stroke-width="0.8"/>
<rect x="570.5" y="189" width="5.5" height="81.8" fill="none" stroke="#d2d22c" stroke-width="1.2"/>
<line x1="573.2" y1="189" x2="573.2" y2="270.8" stroke="#d2d22c" stroke-width="0.8"/>
<rect x="570.5" y="279.6" width="5.5" height="81.4" fill="none" stroke="#d2d22c" stroke-width="1.2"/>
<line x1="573.2" y1="279.6" x2="573.2" y2="361" stroke="#d2d22c" stroke-width="0.8"/>
<rect x="833.5" y="234" width="5" height="32" fill="none" stroke="#d2d22c" stroke-width="1.2"/>
<line x1="836" y1="234" x2="836" y2="266" stroke="#d2d22c" stroke-width="0.8"/>
<path d="M838.4,190.8 L868,221.2 Q858,232 838.4,234" fill="none" stroke="#d2d22c" stroke-width="1.2"/>
<line x1="838.4" y1="190.8" x2="838.4" y2="234" stroke="#d2d22c" stroke-width="1"/>
<rect x="570" y="361" width="8" height="14" fill="url(#st)"/>
<rect x="578" y="369.2" width="46" height="5.6" fill="url(#st)"/>
<rect x="814.4" y="369.2" width="23.6" height="5.6" fill="url(#st)"/>
<polyline points="624,367.6 814.4,367.6" fill="none" stroke="#d2d22c" stroke-width="1.2"/>
<polyline points="624,373.5 672,373.5 674,370.5 765.6,370.5 767.6,373.5 814.4,373.5" fill="none" stroke="#d2d22c" stroke-width="1.8"/>
<line x1="624" y1="367.6" x2="624" y2="374" stroke="#d2d22c" stroke-width="1"/>
<line x1="814.4" y1="367.6" x2="814.4" y2="374" stroke="#d2d22c" stroke-width="1"/>
<circle cx="719" cy="370.5" r="1.8" fill="#d2d22c"/>
<line x1="684.8" y1="363.6" x2="702" y2="363.6" stroke="#d2d22c" stroke-width="1"/>
<polygon points="688,361.6 684.8,363.6 688,365.6" fill="#d2d22c" stroke="#d2d22c" stroke-width="1"/>
<line x1="731" y1="363.6" x2="752.8" y2="363.6" stroke="#d2d22c" stroke-width="1"/>
<polygon points="749.6,361.6 752.8,363.6 749.6,365.6" fill="#d2d22c" stroke="#d2d22c" stroke-width="1"/>
<text x="710.4" y="348.4" font-size="11" fill="#e4e4e8" text-anchor="middle" textLength="80" lengthAdjust="spacingAndGlyphs">12/0 x 8/0 4 PNL.</text>
<text x="712.8" y="359.6" font-size="11" fill="#e4e4e8" text-anchor="middle" textLength="36" lengthAdjust="spacingAndGlyphs">SLIDER</text>
<rect x="831" y="266" width="8" height="34" fill="url(#st)"/>
<rect x="831" y="273.2" width="41" height="7.2" fill="url(#st)"/>
<rect x="831" y="345" width="6" height="46" fill="url(#st)"/>
<rect x="829" y="298.8" width="7.8" height="46.4" fill="none" stroke="#d2d22c" stroke-width="1.2"/>
<line x1="832.9" y1="298.8" x2="832.9" y2="345.2" stroke="#d2d22c" stroke-width="0.8"/>
<line x1="832.5" y1="392" x2="832.5" y2="672" stroke="#d4282e" stroke-width="1.3" stroke-dasharray="8,5"/>
<line x1="837.5" y1="392" x2="837.5" y2="672" stroke="#d4282e" stroke-width="1.3" stroke-dasharray="8,5"/>
<text x="837.6" y="218" font-size="10.5" fill="#e4e4e8" text-anchor="middle" textLength="13" lengthAdjust="spacingAndGlyphs">2/8</text>
<text x="838.4" y="228.4" font-size="10.5" fill="#e4e4e8" text-anchor="middle" textLength="38" lengthAdjust="spacingAndGlyphs">SCREEN</text>
<text x="705" y="254.8" font-size="20" fill="#c82ccc" text-anchor="middle" textLength="182" lengthAdjust="spacingAndGlyphs">SCREENED PORCH</text>
<line x1="614" y1="258" x2="796" y2="258" stroke="#c82ccc" stroke-width="1.2"/>
<text x="648" y="215.6" font-size="10" fill="#2ec42e" text-anchor="middle" textLength="28" lengthAdjust="spacingAndGlyphs">CATH.</text>
<line x1="626.4" y1="218" x2="678.4" y2="218" stroke="#2ec42e" stroke-width="1"/>
<polygon points="674,216 678.4,218 674,220" fill="#2ec42e" stroke="#2ec42e" stroke-width="1"/>
<text x="760" y="215.6" font-size="10" fill="#2ec42e" text-anchor="middle" textLength="28" lengthAdjust="spacingAndGlyphs">CATH.</text>
<line x1="731" y1="218" x2="782.4" y2="218" stroke="#2ec42e" stroke-width="1"/>
<polygon points="735.4,216 731,218 735.4,220" fill="#2ec42e" stroke="#2ec42e" stroke-width="1"/>
<line x1="704.8" y1="189" x2="704.8" y2="370" stroke="#d4282e" stroke-width="1.3" stroke-dasharray="9,6"/>
<text x="823" y="319.6" font-size="11" fill="#e4e4e8" text-anchor="end" textLength="61" lengthAdjust="spacingAndGlyphs">2/8 x 6/0 SH</text>
<rect x="324" y="400.5" width="250.4" height="5.9" fill="url(#st)"/>
<polygon points="348,398.5 394.4,398.5 392.4,405.6 350,405.6" fill="#24293c" stroke="#d2d22c" stroke-width="1.2"/>
<line x1="349" y1="402.1" x2="393.4" y2="402.1" stroke="#d2d22c" stroke-width="0.8"/>
<polygon points="504.8,398.5 551.2,398.5 549.2,405.6 506.8,405.6" fill="#24293c" stroke="#d2d22c" stroke-width="1.2"/>
<line x1="505.8" y1="402.1" x2="550.2" y2="402.1" stroke="#d2d22c" stroke-width="0.8"/>
<text x="371" y="392" font-size="11" fill="#e4e4e8" text-anchor="middle" textLength="61" lengthAdjust="spacingAndGlyphs">2/8 x 6/0 SH</text>
<text x="527" y="392" font-size="11" fill="#e4e4e8" text-anchor="middle" textLength="61" lengthAdjust="spacingAndGlyphs">2/8 x 6/0 SH</text>
<rect x="324" y="400.5" width="5.6" height="639.5" fill="url(#st)"/>
<rect x="321.6" y="607.6" width="8" height="45.6" fill="#24293c" stroke="#d2d22c" stroke-width="1.2"/>
<line x1="325.6" y1="607.6" x2="325.6" y2="653.2" stroke="#d2d22c" stroke-width="0.8"/>
<rect x="321.6" y="689.2" width="8" height="68.8" fill="#24293c" stroke="#d2d22c" stroke-width="1.2"/>
<line x1="325.6" y1="689.2" x2="325.6" y2="758" stroke="#d2d22c" stroke-width="0.8"/>
<line x1="321.6" y1="722.8" x2="329.6" y2="722.8" stroke="#d2d22c" stroke-width="1"/>
<rect x="321.6" y="787.6" width="8" height="50.4" fill="#24293c" stroke="#d2d22c" stroke-width="1.2"/>
<line x1="325.6" y1="787.6" x2="325.6" y2="838" stroke="#d2d22c" stroke-width="0.8"/>
<text x="316" y="627" font-size="11" fill="#e4e4e8" text-anchor="end" textLength="61" lengthAdjust="spacingAndGlyphs">2/8 x 6/0 SH</text>
<text x="277" y="684" font-size="10.5" fill="#e4e4e8" text-anchor="middle" textLength="58" lengthAdjust="spacingAndGlyphs">FREESTND'G.</text>
<text x="272" y="693.5" font-size="10.5" fill="#e4e4e8" text-anchor="middle" textLength="18" lengthAdjust="spacingAndGlyphs">TUB</text>
<text x="318" y="720.5" font-size="10.5" fill="#e4e4e8" text-anchor="end" textLength="87" lengthAdjust="spacingAndGlyphs">2/0 x 5/0 TWIN SH</text>
<text x="276" y="734" font-size="10.5" fill="#e4e4e8" text-anchor="middle" textLength="80" lengthAdjust="spacingAndGlyphs">VERIFY SET HGT.</text>
<text x="276" y="745" font-size="10.5" fill="#e4e4e8" text-anchor="middle" textLength="45" lengthAdjust="spacingAndGlyphs">W/ BLDR.</text>
<text x="318" y="801" font-size="10.5" fill="#e4e4e8" text-anchor="end" textLength="70" lengthAdjust="spacingAndGlyphs">3/0 x 1/0 FXD.</text>
<path d="M286,693 C320,690 345,700 358,715" fill="none" stroke="#e4e4e8" stroke-width="0.9"/>
<polyline points="356,710 358,715 353,713" fill="none" stroke="#e4e4e8" stroke-width="0.8"/>
<line x1="324" y1="417.6" x2="1040" y2="417.6" stroke="#27cfe0" stroke-width="1.5"/>
<line x1="321.9" y1="422.1" x2="330.9" y2="413.1" stroke="#27cfe0" stroke-width="1.4"/>
<line x1="565.9" y1="422.1" x2="574.9" y2="413.1" stroke="#27cfe0" stroke-width="1.4"/>
<line x1="826.5" y1="422.1" x2="835.5" y2="413.1" stroke="#27cfe0" stroke-width="1.4"/>
<line x1="1037.5" y1="422.1" x2="1046.5" y2="413.1" stroke="#27cfe0" stroke-width="1.4"/>
<text x="449.6" y="415.7" font-size="10.5" fill="#27cfe0" text-anchor="middle" textLength="22.5" lengthAdjust="spacingAndGlyphs">15'-4"</text>
<text x="700" y="415.7" font-size="10.5" fill="#27cfe0" text-anchor="middle" textLength="22.5" lengthAdjust="spacingAndGlyphs">16'-8"</text>
<text x="936" y="415.7" font-size="10.5" fill="#27cfe0" text-anchor="middle" textLength="22.5" lengthAdjust="spacingAndGlyphs">13'-4"</text>
<text x="312" y="411.7" font-size="10.5" fill="#27cfe0" text-anchor="middle" textLength="8" lengthAdjust="spacingAndGlyphs">4"</text>
<text x="377.8" y="411" font-size="10.5" fill="#27cfe0" text-anchor="middle" transform="rotate(-90 377.8 411)" textLength="8" lengthAdjust="spacingAndGlyphs">4"</text>
<line x1="380" y1="380" x2="380" y2="1048" stroke="#27cfe0" stroke-width="1.5"/>
<line x1="375.5" y1="408" x2="384.5" y2="399" stroke="#27cfe0" stroke-width="1.4"/>
<line x1="375.5" y1="422.1" x2="384.5" y2="413.1" stroke="#27cfe0" stroke-width="1.4"/>
<line x1="375.5" y1="679.5" x2="384.5" y2="670.5" stroke="#27cfe0" stroke-width="1.4"/>
<line x1="375.5" y1="776.5" x2="384.5" y2="767.5" stroke="#27cfe0" stroke-width="1.4"/>
<line x1="375.5" y1="854.5" x2="384.5" y2="845.5" stroke="#27cfe0" stroke-width="1.4"/>
<line x1="375.5" y1="872.5" x2="384.5" y2="863.5" stroke="#27cfe0" stroke-width="1.4"/>
<line x1="375.5" y1="1041.5" x2="384.5" y2="1032.5" stroke="#27cfe0" stroke-width="1.4"/>
<text x="377.8" y="541.6" font-size="10.5" fill="#27cfe0" text-anchor="middle" transform="rotate(-90 377.8 541.6)" textLength="21.8" lengthAdjust="spacingAndGlyphs">11'-4"</text>
<text x="377.8" y="815" font-size="10.5" fill="#27cfe0" text-anchor="middle" transform="rotate(-90 377.8 815)" textLength="17.6" lengthAdjust="spacingAndGlyphs">5'-0"</text>
<text x="377.8" y="899" font-size="10.5" fill="#27cfe0" text-anchor="middle" transform="rotate(-90 377.8 899)" textLength="17.6" lengthAdjust="spacingAndGlyphs">1'-4"</text>
<text x="377.8" y="953.6" font-size="10.5" fill="#27cfe0" text-anchor="middle" transform="rotate(-90 377.8 953.6)" textLength="22.5" lengthAdjust="spacingAndGlyphs">10'-4"</text>
<rect x="349.6" y="426.7" width="199.7" height="224.3" fill="none" stroke="#d4282e" stroke-width="1.4" stroke-dasharray="9,7"/>
<line x1="351.3" y1="435.3" x2="540.3" y2="649.3" stroke="#d4282e" stroke-width="1.4" stroke-dasharray="9,7"/>
<line x1="358.7" y1="428.7" x2="547.7" y2="642.7" stroke="#d4282e" stroke-width="1.4" stroke-dasharray="9,7"/>
<line x1="541.3" y1="428.7" x2="351.3" y2="642.7" stroke="#d4282e" stroke-width="1.4" stroke-dasharray="9,7"/>
<line x1="548.7" y1="435.3" x2="358.7" y2="649.3" stroke="#d4282e" stroke-width="1.4" stroke-dasharray="9,7"/>
<text x="464" y="498.4" font-size="20" fill="#c82ccc" text-anchor="middle" textLength="134" lengthAdjust="spacingAndGlyphs">MASTER SUITE</text>
<line x1="396.8" y1="501.6" x2="531.2" y2="501.6" stroke="#c82ccc" stroke-width="1.2"/>
<text x="448" y="592" font-size="10.5" fill="#e4e4e8" text-anchor="middle" textLength="50" lengthAdjust="spacingAndGlyphs">COFFERED</text>
<text x="448" y="602.4" font-size="10.5" fill="#e4e4e8" text-anchor="middle" textLength="50" lengthAdjust="spacingAndGlyphs">TRAY CLG.</text>
<text x="448" y="612" font-size="10.5" fill="#e4e4e8" text-anchor="middle" textLength="52" lengthAdjust="spacingAndGlyphs">PER BLDR.</text>
<path d="M416.8,596.8 C395,588 378,578 394,573 C402,571 410,569 416,569.6" fill="none" stroke="#e4e4e8" stroke-width="0.9"/>
<path d="M476.8,596 C495,598 512,604 525,596 C535,590 542,580 548,573.6" fill="none" stroke="#e4e4e8" stroke-width="0.9"/>
<path d="M329.6,596 L343,596 L343,592.8 L370.4,592.8 L370.4,598 L350,598 L350,607.2 L329.6,607.2 Z" fill="url(#rh)" stroke="#d4282e" stroke-width="1"/>
<text x="378" y="611" font-size="11" fill="#2ec42e" text-anchor="middle" textLength="19" lengthAdjust="spacingAndGlyphs">10/0</text>
<text x="342" y="617.5" font-size="11" fill="#2ec42e" text-anchor="middle" textLength="14" lengthAdjust="spacingAndGlyphs">9/4</text>
<rect x="329.6" y="672.4" width="82.4" height="5.6" fill="url(#st)"/>
<rect x="464" y="672.4" width="53.6" height="5.6" fill="url(#st)"/>
<rect x="559.2" y="672.4" width="16" height="5.6" fill="url(#st)"/>
<polyline points="412,672.4 430.4,654.8" fill="none" stroke="#d2d22c" stroke-width="1.8"/>
<path d="M430.4,654.8 Q437,660 437.6,669.2" fill="none" stroke="#d2d22c" stroke-width="1"/>
<polyline points="464,672.4 444.8,654.8" fill="none" stroke="#d2d22c" stroke-width="1.8"/>
<path d="M444.8,654.8 Q438,660 437.6,669.2" fill="none" stroke="#d2d22c" stroke-width="1"/>
<polyline points="559.2,672.4 529.6,643.6" fill="none" stroke="#d2d22c" stroke-width="1.8"/>
<path d="M529.6,643.6 Q519,652 517.6,672.4" fill="none" stroke="#d2d22c" stroke-width="1"/>
<text x="437.6" y="677.2" font-size="11" fill="#e4e4e8" text-anchor="middle" textLength="30" lengthAdjust="spacingAndGlyphs">PR 1/6</text>
<text x="532.8" y="669.2" font-size="11" fill="#e4e4e8" text-anchor="middle" textLength="14" lengthAdjust="spacingAndGlyphs">2/8</text>
<rect x="488.8" y="658.8" width="14.4" height="12" fill="none" stroke="#e4e4e8" stroke-width="0.9"/>
<text x="496" y="668.8" font-size="10.5" fill="#e4e4e8" text-anchor="middle" textLength="11" lengthAdjust="spacingAndGlyphs">SD</text>
<rect x="570.4" y="369" width="4.8" height="318.6" fill="url(#st)"/>
<rect x="570.4" y="730.8" width="4.8" height="309.2" fill="url(#st)"/>
<line x1="571.5" y1="690" x2="571.5" y2="730" stroke="#d4282e" stroke-width="1.3" stroke-dasharray="8,5"/>
<line x1="574.5" y1="690" x2="574.5" y2="730" stroke="#d4282e" stroke-width="1.3" stroke-dasharray="8,5"/>
<rect x="501.6" y="678" width="6.4" height="125.6" fill="url(#st)"/>
<rect x="508" y="756.4" width="12" height="5.6" fill="url(#st)"/>
<rect x="557.6" y="756.4" width="12.8" height="5.6" fill="url(#st)"/>
<rect x="470.4" y="798" width="100" height="5.6" fill="url(#st)"/>
<rect x="470.4" y="798" width="5.6" height="8" fill="url(#st)"/>
<line x1="476" y1="678" x2="476" y2="796.4" stroke="#d4282e" stroke-width="1.3"/>
<circle cx="488.8" cy="698.8" r="10" fill="none" stroke="#27cfe0" stroke-width="1.5"/>
<circle cx="488.8" cy="698.8" r="7.6" fill="none" stroke="#27cfe0" stroke-width="1"/>
<circle cx="488.8" cy="778" r="10" fill="none" stroke="#27cfe0" stroke-width="1.5"/>
<circle cx="488.8" cy="778" r="7.6" fill="none" stroke="#27cfe0" stroke-width="1"/>
<rect x="508.8" y="702.8" width="13.6" height="12.8" fill="none" stroke="#e4e4e8" stroke-width="0.9"/>
<text x="515.6" y="712.8" font-size="10.5" fill="#e4e4e8" text-anchor="middle" textLength="11" lengthAdjust="spacingAndGlyphs">SD</text>
<line x1="467.2" y1="738" x2="570" y2="738" stroke="#27cfe0" stroke-width="1.5"/>
<line x1="462.7" y1="742.5" x2="471.7" y2="733.5" stroke="#27cfe0" stroke-width="1.4"/>
<line x1="498.7" y1="742.5" x2="507.7" y2="733.5" stroke="#27cfe0" stroke-width="1.4"/>
<line x1="565.5" y1="742.5" x2="574.5" y2="733.5" stroke="#27cfe0" stroke-width="1.4"/>
<text x="486.4" y="735.3" font-size="10.5" fill="#27cfe0" text-anchor="middle" textLength="17.6" lengthAdjust="spacingAndGlyphs">2'-0"</text>
<text x="526.4" y="735.3" font-size="10.5" fill="#27cfe0" text-anchor="middle" textLength="17.6" lengthAdjust="spacingAndGlyphs">4'-4"</text>
<line x1="469.6" y1="738" x2="469.6" y2="790" stroke="#27cfe0" stroke-width="1.2"/>
<polyline points="520,758 546.4,731.6" fill="none" stroke="#d2d22c" stroke-width="1.8"/>
<path d="M546.4,731.6 Q556,740 557.6,758" fill="none" stroke="#d2d22c" stroke-width="1"/>
<text x="540" y="755" font-size="11" fill="#e4e4e8" text-anchor="middle" textLength="14" lengthAdjust="spacingAndGlyphs">2/4</text>
<line x1="516.8" y1="777.2" x2="570" y2="777.2" stroke="#2ec42e" stroke-width="1.2"/>
<text x="542.4" y="791.6" font-size="10.5" fill="#e4e4e8" text-anchor="middle" textLength="36" lengthAdjust="spacingAndGlyphs">LINEN</text>
<line x1="524.5" y1="794" x2="560" y2="794" stroke="#e4e4e8" stroke-width="0.9"/>
<line x1="521.6" y1="762" x2="521.6" y2="856" stroke="#27cfe0" stroke-width="1.2"/>
<line x1="517.1" y1="766.5" x2="526.1" y2="757.5" stroke="#27cfe0" stroke-width="1.4"/>
<line x1="517.1" y1="808.1" x2="526.1" y2="799.1" stroke="#27cfe0" stroke-width="1.4"/>
<line x1="517.1" y1="857.5" x2="526.1" y2="848.5" stroke="#27cfe0" stroke-width="1.4"/>
<text x="519.8" y="780" font-size="10.5" fill="#27cfe0" text-anchor="middle" transform="rotate(-90 519.8 780)" textLength="17.6" lengthAdjust="spacingAndGlyphs">2'-8"</text>
<text x="519.8" y="830" font-size="10.5" fill="#27cfe0" text-anchor="middle" transform="rotate(-90 519.8 830)" textLength="17.6" lengthAdjust="spacingAndGlyphs">3'-4"</text>
<ellipse cx="361.6" cy="724.4" rx="23.2" ry="37.6" fill="none" stroke="#27cfe0" stroke-width="1.6"/>
<ellipse cx="361.6" cy="724.4" rx="20.8" ry="35.2" fill="none" stroke="#27cfe0" stroke-width="1"/>
<text x="371.8" y="724.4" font-size="10.5" fill="#27cfe0" text-anchor="middle" transform="rotate(-90 371.8 724.4)" textLength="17.6" lengthAdjust="spacingAndGlyphs">6'-0"</text>
<rect x="329.6" y="772" width="70.4" height="4" fill="none" stroke="#27cfe0" stroke-width="1.4"/>
<line x1="329.6" y1="776" x2="396" y2="849.6" stroke="#27cfe0" stroke-width="1"/>
<line x1="396" y1="776" x2="329.6" y2="849.6" stroke="#27cfe0" stroke-width="1"/>
<line x1="329.6" y1="850.4" x2="396" y2="850.4" stroke="#27cfe0" stroke-width="1.2"/>
<rect x="396" y="814.4" width="4.8" height="35.2" fill="none" stroke="#27cfe0" stroke-width="1.2"/>
<polyline points="400.8,814.4 425.6,788.8 400,775.2" fill="none" stroke="#27cfe0" stroke-width="1.4"/>
<text x="364.8" y="788.8" font-size="10.5" fill="#e4e4e8" text-anchor="middle" textLength="56" lengthAdjust="spacingAndGlyphs">ZERO ENTRY</text>
<text x="361.6" y="798.4" font-size="10.5" fill="#e4e4e8" text-anchor="middle" textLength="30" lengthAdjust="spacingAndGlyphs">SHWR.</text>
<text x="408" y="788.8" font-size="10.5" fill="#e4e4e8" text-anchor="middle" textLength="14" lengthAdjust="spacingAndGlyphs">2/4</text>
<text x="407.2" y="798.4" font-size="10.5" fill="#e4e4e8" text-anchor="middle" textLength="14" lengthAdjust="spacingAndGlyphs">GL.</text>
<text x="353.6" y="862.4" font-size="11" fill="#e4e4e8" text-anchor="middle" textLength="24" lengthAdjust="spacingAndGlyphs">SEAT</text>
<rect x="329.6" y="864.8" width="71.2" height="7.2" fill="url(#st)"/>
<rect x="394.4" y="850.4" width="6.4" height="21.6" fill="url(#st)"/>
<rect x="394.4" y="850.4" width="24.8" height="5.6" fill="url(#st)"/>
<rect x="456" y="850.4" width="114.4" height="5.6" fill="url(#st)"/>
<polyline points="419.2,853 445.6,881.6" fill="none" stroke="#d2d22c" stroke-width="1.8"/>
<path d="M445.6,881.6 Q456,870 456,852.8" fill="none" stroke="#d2d22c" stroke-width="1"/>
<text x="437" y="862" font-size="11" fill="#e4e4e8" text-anchor="middle" textLength="14" lengthAdjust="spacingAndGlyphs">2/4</text>
<polyline points="472.8,847.2 500.8,819.2" fill="none" stroke="#d2d22c" stroke-width="1.8"/>
<path d="M500.8,819.2 Q490,806 472,806.4" fill="none" stroke="#d2d22c" stroke-width="1"/>
<text x="475" y="829" font-size="11" fill="#e4e4e8" text-anchor="middle" textLength="14" lengthAdjust="spacingAndGlyphs">2/4</text>
<rect x="556" y="812" width="11.2" height="29.6" fill="none" stroke="#27cfe0" stroke-width="1.2"/>
<path d="M556,814 C530,812 524,826 530,834 C536,842 550,841 556,839" fill="none" stroke="#27cfe0" stroke-width="1.4"/>
<rect x="324" y="1034" width="251.2" height="6" fill="url(#st)"/>
<polygon points="427.5,1032.5 472.5,1032.5 470.5,1039.5 429.5,1039.5" fill="#24293c" stroke="#d2d22c" stroke-width="1.2"/>
<line x1="428.5" y1="1036" x2="471.5" y2="1036" stroke="#d2d22c" stroke-width="0.8"/>
<text x="452" y="1057" font-size="11" fill="#e4e4e8" text-anchor="middle" textLength="61" lengthAdjust="spacingAndGlyphs">2/8 x 4/6 SH</text>
<polyline points="412.8,856 412.8,885 342.4,885 342.4,1021" fill="none" stroke="#2ec42e" stroke-width="1.2"/>
<polyline points="416.8,856 416.8,888.8 346.4,888.8 346.4,1017.5 552.8,1017.5" fill="none" stroke="#2ec42e" stroke-width="1.2" stroke-dasharray="4,2.5"/>
<polyline points="475.2,856 475.2,871 556.3,871 556.3,1021 342.4,1021" fill="none" stroke="#2ec42e" stroke-width="1.2"/>
<polyline points="471.2,856 471.2,867.5 552.8,867.5 552.8,1017.5" fill="none" stroke="#2ec42e" stroke-width="1.2" stroke-dasharray="4,2.5"/>
<line x1="422.5" y1="1021" x2="422.5" y2="1034" stroke="#2ec42e" stroke-width="1"/>
<line x1="478.8" y1="1021" x2="478.8" y2="1034" stroke="#2ec42e" stroke-width="1"/>
<text x="448.8" y="908.8" font-size="11" fill="#e4e4e8" text-anchor="middle" textLength="27" lengthAdjust="spacingAndGlyphs">W.I.C.</text>
<line x1="435" y1="911" x2="462.5" y2="911" stroke="#e4e4e8" stroke-width="0.9"/>
<rect x="417.6" y="928.8" width="64" height="31.2" fill="none" stroke="#2ec42e" stroke-width="1.3"/>
<text x="452" y="946.4" font-size="11" fill="#e4e4e8" text-anchor="middle" textLength="48" lengthAdjust="spacingAndGlyphs">DRESSING</text>
<text x="452" y="956.8" font-size="11" fill="#e4e4e8" text-anchor="middle" textLength="36" lengthAdjust="spacingAndGlyphs">ISLAND</text>
<polyline points="317,1014 317,1045.5 581,1045.5 581,1040" fill="none" stroke="#27cfe0" stroke-width="1.2"/>
<line x1="317" y1="1014" x2="324" y2="1014" stroke="#27cfe0" stroke-width="1.2"/>
<text x="286" y="1076" font-size="11" fill="#e4e4e8" text-anchor="middle" textLength="32" lengthAdjust="spacingAndGlyphs">BRICK</text>
<text x="286" y="1086" font-size="11" fill="#e4e4e8" text-anchor="middle" textLength="32" lengthAdjust="spacingAndGlyphs">LEDGE</text>
<path d="M287,1067 C285,1052 290,1046 308,1040" fill="none" stroke="#e4e4e8" stroke-width="0.9"/>
<path d="M310,1080 C335,1080 360,1090 360,1075 C358,1065 350,1058 343,1050" fill="none" stroke="#e4e4e8" stroke-width="0.9"/>
<rect x="570.4" y="730.8" width="5.6" height="309.2" fill="url(#st)"/>
<line x1="591.2" y1="406" x2="591.2" y2="447.2" stroke="#d4282e" stroke-width="1.3"/>
<line x1="607.2" y1="406" x2="607.2" y2="447.2" stroke="#d4282e" stroke-width="1.3"/>
<line x1="591.2" y1="542.4" x2="591.2" y2="615.2" stroke="#d4282e" stroke-width="1.3"/>
<line x1="607.2" y1="542.4" x2="607.2" y2="615.2" stroke="#d4282e" stroke-width="1.3"/>
<rect x="576" y="447.2" width="32.8" height="6.4" fill="url(#st)"/>
<rect x="603.2" y="453.6" width="5.6" height="13.6" fill="url(#st)"/>
<rect x="576" y="536" width="32.8" height="6.4" fill="url(#st)"/>
<rect x="603.2" y="521.6" width="5.6" height="14.4" fill="url(#st)"/>
<rect x="576" y="615.2" width="32.8" height="5.6" fill="url(#st)"/>
<polyline points="608.8,447.2 635.2,447.2 635.2,542.4 608.8,542.4" fill="none" stroke="#d2d22c" stroke-width="1.3"/>
<polyline points="603.2,467.2 580.8,475.2 580.8,514.4 603.2,521.6" fill="none" stroke="#d2d22c" stroke-width="1.3"/>
<text x="603.2" y="484.8" font-size="10.5" fill="#e4e4e8" text-anchor="middle" textLength="13" lengthAdjust="spacingAndGlyphs">42"</text>
<text x="603.2" y="495.2" font-size="10.5" fill="#e4e4e8" text-anchor="middle" textLength="33" lengthAdjust="spacingAndGlyphs">DIRECT</text>
<text x="603.2" y="506.4" font-size="10.5" fill="#e4e4e8" text-anchor="middle" textLength="24" lengthAdjust="spacingAndGlyphs">VENT</text>
<text x="679" y="483.2" font-size="10.5" fill="#e4e4e8" text-anchor="middle" textLength="36" lengthAdjust="spacingAndGlyphs">20"x72"</text>
<text x="680" y="492.8" font-size="10.5" fill="#e4e4e8" text-anchor="middle" textLength="38" lengthAdjust="spacingAndGlyphs">HEARTH</text>
<path d="M657,483 C650,474 640,477 620,481" fill="none" stroke="#e4e4e8" stroke-width="0.9"/>
<polyline points="624,479 619.5,481 624,483" fill="none" stroke="#e4e4e8" stroke-width="0.8"/>
<line x1="576" y1="436.8" x2="611.2" y2="436.8" stroke="#27cfe0" stroke-width="1.5"/>
<line x1="571.5" y1="441.3" x2="580.5" y2="432.3" stroke="#27cfe0" stroke-width="1.4"/>
<line x1="606.7" y1="441.3" x2="615.7" y2="432.3" stroke="#27cfe0" stroke-width="1.4"/>
<text x="592" y="434.1" font-size="10.5" fill="#27cfe0" text-anchor="middle" textLength="17.6" lengthAdjust="spacingAndGlyphs">2'-2"</text>
<line x1="576" y1="634.4" x2="611.2" y2="634.4" stroke="#27cfe0" stroke-width="1.5"/>
<line x1="571.5" y1="638.9" x2="580.5" y2="629.9" stroke="#27cfe0" stroke-width="1.4"/>
<line x1="606.7" y1="638.9" x2="615.7" y2="629.9" stroke="#27cfe0" stroke-width="1.4"/>
<text x="592" y="631.7" font-size="10.5" fill="#27cfe0" text-anchor="middle" textLength="17.6" lengthAdjust="spacingAndGlyphs">2'-2"</text>
<line x1="576" y1="661.6" x2="648.8" y2="661.6" stroke="#27cfe0" stroke-width="1.5"/>
<line x1="571.5" y1="666.1" x2="580.5" y2="657.1" stroke="#27cfe0" stroke-width="1.4"/>
<line x1="644.3" y1="666.1" x2="653.3" y2="657.1" stroke="#27cfe0" stroke-width="1.4"/>
<text x="611.2" y="659.7" font-size="10.5" fill="#27cfe0" text-anchor="middle" textLength="17.6" lengthAdjust="spacingAndGlyphs">4'-8"</text>
<line x1="643.2" y1="448" x2="743" y2="448" stroke="#27cfe0" stroke-width="1.5"/>
<line x1="643.2" y1="541.6" x2="743" y2="541.6" stroke="#27cfe0" stroke-width="1.5"/>
<line x1="620" y1="620.5" x2="743" y2="620.5" stroke="#27cfe0" stroke-width="1.5"/>
<line x1="742.4" y1="372" x2="742.4" y2="800" stroke="#27cfe0" stroke-width="1.5"/>
<line x1="737.9" y1="379.3" x2="746.9" y2="370.3" stroke="#27cfe0" stroke-width="1.4"/>
<line x1="737.9" y1="452.5" x2="746.9" y2="443.5" stroke="#27cfe0" stroke-width="1.4"/>
<line x1="737.9" y1="546.1" x2="746.9" y2="537.1" stroke="#27cfe0" stroke-width="1.4"/>
<line x1="737.9" y1="625" x2="746.9" y2="616" stroke="#27cfe0" stroke-width="1.4"/>
<line x1="737.9" y1="677.3" x2="746.9" y2="668.3" stroke="#27cfe0" stroke-width="1.4"/>
<line x1="737.9" y1="739.5" x2="746.9" y2="730.5" stroke="#27cfe0" stroke-width="1.4"/>
<text x="739.8" y="400.8" font-size="10.5" fill="#27cfe0" text-anchor="middle" transform="rotate(-90 739.8 400.8)" textLength="17.6" lengthAdjust="spacingAndGlyphs">4'-8"</text>
<text x="739.8" y="494.4" font-size="10.5" fill="#27cfe0" text-anchor="middle" transform="rotate(-90 739.8 494.4)" textLength="17.6" lengthAdjust="spacingAndGlyphs">6'-0"</text>
<text x="739.8" y="581.6" font-size="10.5" fill="#27cfe0" text-anchor="middle" transform="rotate(-90 739.8 581.6)" textLength="17.6" lengthAdjust="spacingAndGlyphs">5'-0"</text>
<text x="739.8" y="648" font-size="10.5" fill="#27cfe0" text-anchor="middle" transform="rotate(-90 739.8 648)" textLength="17.6" lengthAdjust="spacingAndGlyphs">3'-8"</text>
<text x="739.8" y="715.2" font-size="10.5" fill="#27cfe0" text-anchor="middle" transform="rotate(-90 739.8 715.2)" textLength="17.6" lengthAdjust="spacingAndGlyphs">3'-8"</text>
<text x="737.4" y="528.8" font-size="20" fill="#c82ccc" text-anchor="middle" textLength="135" lengthAdjust="spacingAndGlyphs">FAMILY ROOM</text>
<line x1="670" y1="531.2" x2="804.8" y2="531.2" stroke="#c82ccc" stroke-width="1.2"/>
<text x="864" y="530.4" font-size="11" fill="#e4e4e8" text-anchor="middle" textLength="44" lengthAdjust="spacingAndGlyphs">17/0 x 8/0</text>
<text x="864" y="540.8" font-size="11" fill="#e4e4e8" text-anchor="middle" textLength="20" lengthAdjust="spacingAndGlyphs">C.O.</text>
<rect x="831" y="380" width="6" height="10.4" fill="url(#st)"/>
<rect x="648" y="672.8" width="88" height="62.4" fill="none" stroke="#27cfe0" stroke-width="1.2"/>
<line x1="648" y1="677.6" x2="736" y2="677.6" stroke="#27cfe0" stroke-width="1.2"/>
<line x1="648" y1="730.4" x2="696" y2="730.4" stroke="#27cfe0" stroke-width="1.2"/>
<circle cx="651.5" cy="675.2" r="1.6" fill="none" stroke="#27cfe0" stroke-width="1"/>
<circle cx="651.5" cy="732.8" r="1.6" fill="none" stroke="#27cfe0" stroke-width="1"/>
<line x1="660.8" y1="677.6" x2="660.8" y2="730.4" stroke="#27cfe0" stroke-width="1.2"/>
<line x1="673.6" y1="677.6" x2="673.6" y2="730.4" stroke="#27cfe0" stroke-width="1.2"/>
<line x1="686.4" y1="677.6" x2="686.4" y2="730.4" stroke="#27cfe0" stroke-width="1.2"/>
<line x1="698.4" y1="677.6" x2="698.4" y2="730.4" stroke="#27cfe0" stroke-width="1.2"/>
<line x1="710.4" y1="677.6" x2="710.4" y2="730.4" stroke="#27cfe0" stroke-width="1.2"/>
<line x1="723.2" y1="677.6" x2="723.2" y2="730.4" stroke="#27cfe0" stroke-width="1.2"/>
<line x1="736" y1="677.6" x2="736" y2="730.4" stroke="#27cfe0" stroke-width="1.2"/>
<line x1="748" y1="677.6" x2="748" y2="730.4" stroke="#27cfe0" stroke-width="1.2"/>
<line x1="760" y1="677.6" x2="760" y2="730.4" stroke="#27cfe0" stroke-width="1.2"/>
<line x1="772.8" y1="677.6" x2="772.8" y2="730.4" stroke="#27cfe0" stroke-width="1.2"/>
<line x1="785.6" y1="677.6" x2="785.6" y2="730.4" stroke="#27cfe0" stroke-width="1.2"/>
<line x1="798.4" y1="677.6" x2="798.4" y2="730.4" stroke="#27cfe0" stroke-width="1.2"/>
<line x1="811.2" y1="677.6" x2="811.2" y2="730.4" stroke="#27cfe0" stroke-width="1.2"/>
<line x1="648" y1="702.4" x2="753.6" y2="702.4" stroke="#27cfe0" stroke-width="1.2"/>
<polyline points="748,700.4 753.6,702.4 748,704.4" fill="none" stroke="#27cfe0" stroke-width="1"/>
<rect x="736" y="672.8" width="119.2" height="5.6" fill="url(#st)"/>
<rect x="831.2" y="656.8" width="5.6" height="16" fill="url(#st)"/>
<rect x="696" y="730.4" width="159.2" height="5.6" fill="url(#st)"/>
<rect x="696" y="730.4" width="4.8" height="60" fill="url(#st)"/>
<rect x="810.4" y="678.4" width="5.6" height="52" fill="url(#st)"/>
<line x1="817.6" y1="678.4" x2="817.6" y2="730.4" stroke="#d4282e" stroke-width="1.3"/>
<line x1="822.4" y1="678.4" x2="822.4" y2="730.4" stroke="#d4282e" stroke-width="1.3"/>
<line x1="827.2" y1="678.4" x2="827.2" y2="730.4" stroke="#d4282e" stroke-width="1.3"/>
<line x1="832" y1="678.4" x2="832" y2="730.4" stroke="#d4282e" stroke-width="1.3"/>
<line x1="836" y1="678.4" x2="836" y2="730.4" stroke="#d4282e" stroke-width="1.3"/>
<line x1="846.4" y1="678.4" x2="846.4" y2="730.4" stroke="#d4282e" stroke-width="1.3"/>
<line x1="855" y1="673.6" x2="880" y2="673.6" stroke="#d4282e" stroke-width="1.3" stroke-dasharray="7,4"/>
<line x1="855" y1="678.4" x2="880" y2="678.4" stroke="#d4282e" stroke-width="1.3" stroke-dasharray="7,4"/>
<line x1="855" y1="731" x2="880" y2="731" stroke="#d4282e" stroke-width="1.3" stroke-dasharray="7,4"/>
<line x1="855" y1="735.5" x2="880" y2="735.5" stroke="#d4282e" stroke-width="1.3" stroke-dasharray="7,4"/>
<line x1="697" y1="792" x2="697" y2="940" stroke="#d4282e" stroke-width="1.3" stroke-dasharray="8,5"/>
<line x1="700.4" y1="792" x2="700.4" y2="940" stroke="#d4282e" stroke-width="1.3" stroke-dasharray="8,5"/>
<text x="639.2" y="700" font-size="11" fill="#2ec42e" text-anchor="middle" textLength="12" lengthAdjust="spacingAndGlyphs">UP</text>
<text x="637.6" y="712" font-size="11" fill="#2ec42e" text-anchor="middle" textLength="14" lengthAdjust="spacingAndGlyphs">17R</text>
<text x="601.6" y="703.2" font-size="11" fill="#e4e4e8" text-anchor="middle" textLength="44" lengthAdjust="spacingAndGlyphs">2/8 x 8/0</text>
<text x="601.6" y="713.6" font-size="11" fill="#e4e4e8" text-anchor="middle" textLength="20" lengthAdjust="spacingAndGlyphs">C.O.</text>
<text x="704" y="664" font-size="11" fill="#e4e4e8" text-anchor="middle" textLength="22" lengthAdjust="spacingAndGlyphs">RAIL</text>
<path d="M692,660 C684,655 678,655 686.4,674.4" fill="none" stroke="#e4e4e8" stroke-width="0.9"/>
<text x="776" y="637.6" font-size="11" fill="#e4e4e8" text-anchor="middle" textLength="56" lengthAdjust="spacingAndGlyphs">BUTLERS</text>
<line x1="748" y1="640" x2="804" y2="640" stroke="#e4e4e8" stroke-width="0.9"/>
<text x="776" y="652" font-size="11" fill="#e4e4e8" text-anchor="middle" textLength="50" lengthAdjust="spacingAndGlyphs">PANTRY</text>
<line x1="750" y1="654.5" x2="802" y2="654.5" stroke="#e4e4e8" stroke-width="0.9"/>
<path d="M805,642 C830,639 855,638 847,665 C845,675 843,685 840,692" fill="none" stroke="#e4e4e8" stroke-width="0.9"/>
<text x="811.2" y="744.8" font-size="11" fill="#e4e4e8" text-anchor="middle" textLength="28" lengthAdjust="spacingAndGlyphs">STAIR</text>
<text x="811.2" y="754.4" font-size="11" fill="#e4e4e8" text-anchor="middle" textLength="26" lengthAdjust="spacingAndGlyphs">RAKE</text>
<path d="M789,745 C800,720 810,700 825,665" fill="none" stroke="#e4e4e8" stroke-width="0.9"/>
<path d="M828,745 C845,738 868,725 855,718 C850,716 848,716 846,715" fill="none" stroke="#e4e4e8" stroke-width="0.9"/>
<path d="M798,708 L822,700 L800,706" fill="none" stroke="#e4e4e8" stroke-width="0.8"/>
<line x1="570" y1="766.4" x2="900" y2="766.4" stroke="#27cfe0" stroke-width="1.5"/>
<line x1="571.5" y1="770.9" x2="580.5" y2="761.9" stroke="#27cfe0" stroke-width="1.4"/>
<line x1="695.5" y1="770.9" x2="704.5" y2="761.9" stroke="#27cfe0" stroke-width="1.4"/>
<line x1="837.1" y1="770.9" x2="846.1" y2="761.9" stroke="#27cfe0" stroke-width="1.4"/>
<line x1="901.5" y1="770.9" x2="910.5" y2="761.9" stroke="#27cfe0" stroke-width="1.4"/>
<text x="632.8" y="764.5" font-size="10.5" fill="#27cfe0" text-anchor="middle" textLength="17.6" lengthAdjust="spacingAndGlyphs">8'-0"</text>
<text x="768" y="764.5" font-size="10.5" fill="#27cfe0" text-anchor="middle" textLength="17.6" lengthAdjust="spacingAndGlyphs">9'-4"</text>
<text x="870.4" y="764.5" font-size="10.5" fill="#27cfe0" text-anchor="middle" textLength="17.6" lengthAdjust="spacingAndGlyphs">4'-0"</text>
<line x1="841.6" y1="736" x2="841.6" y2="770" stroke="#27cfe0" stroke-width="1.2"/>
<text x="875" y="656.5" font-size="11" fill="#e4e4e8" text-anchor="middle" textLength="44" lengthAdjust="spacingAndGlyphs">2/8 x 8/0</text>
<text x="875" y="666.5" font-size="11" fill="#e4e4e8" text-anchor="middle" textLength="20" lengthAdjust="spacingAndGlyphs">C.O.</text>
<text x="877" y="744.5" font-size="11" fill="#e4e4e8" text-anchor="middle" textLength="44" lengthAdjust="spacingAndGlyphs">2/8 x 8/0</text>
<text x="877" y="754.5" font-size="11" fill="#e4e4e8" text-anchor="middle" textLength="20" lengthAdjust="spacingAndGlyphs">C.O.</text>
<rect x="831" y="273.2" width="430" height="7.2" fill="url(#st)"/>
<polygon points="872,272.5 1003,272.5 1001,280.5 874,280.5" fill="#24293c" stroke="#d2d22c" stroke-width="1.2"/>
<line x1="873" y1="276.5" x2="1002" y2="276.5" stroke="#d2d22c" stroke-width="0.8"/>
<line x1="916.6" y1="272.5" x2="916.6" y2="280.5" stroke="#d2d22c" stroke-width="1.2"/>
<line x1="960" y1="272.5" x2="960" y2="280.5" stroke="#d2d22c" stroke-width="1.2"/>
<text x="941" y="267" font-size="11" fill="#e4e4e8" text-anchor="middle" textLength="100" lengthAdjust="spacingAndGlyphs">2/8 x 6/0 TRIPLE SH</text>
<polygon points="1105,272.5 1195,272.5 1193,280.5 1107,280.5" fill="#24293c" stroke="#d2d22c" stroke-width="1.2"/>
<line x1="1106" y1="276.5" x2="1194" y2="276.5" stroke="#d2d22c" stroke-width="0.8"/>
<line x1="1150" y1="272.5" x2="1150" y2="280.5" stroke="#d2d22c" stroke-width="1"/>
<text x="1146" y="266" font-size="11" fill="#e4e4e8" text-anchor="middle" textLength="84" lengthAdjust="spacingAndGlyphs">2/8 x 5/0 TWIN SH</text>
<text x="933" y="370" font-size="20" fill="#c82ccc" text-anchor="middle" textLength="76" lengthAdjust="spacingAndGlyphs">BRKFST.</text>
<line x1="895" y1="372.5" x2="972" y2="372.5" stroke="#c82ccc" stroke-width="1.2"/>
<rect x="1040.6" y="280.4" width="6" height="345.6" fill="url(#st)"/>
<rect x="1040.6" y="667.2" width="6" height="136.6" fill="url(#st)"/>
<line x1="1041.8" y1="628" x2="1041.8" y2="665" stroke="#d4282e" stroke-width="1.3" stroke-dasharray="7,4"/>
<line x1="1045.2" y1="628" x2="1045.2" y2="665" stroke="#d4282e" stroke-width="1.3" stroke-dasharray="7,4"/>
<line x1="1036.1" y1="422.3" x2="1045.1" y2="413.3" stroke="#27cfe0" stroke-width="1.4"/>
<line x1="1072.7" y1="422.3" x2="1081.7" y2="413.3" stroke="#27cfe0" stroke-width="1.4"/>
<line x1="1077.2" y1="398" x2="1077.2" y2="420" stroke="#27cfe0" stroke-width="1.2"/>
<line x1="1046" y1="417.8" x2="1260" y2="417.8" stroke="#27cfe0" stroke-width="1.5"/>
<line x1="1253.5" y1="422.3" x2="1262.5" y2="413.3" stroke="#27cfe0" stroke-width="1.4"/>
<text x="1059.2" y="415.9" font-size="10.5" fill="#27cfe0" text-anchor="middle" textLength="17.6" lengthAdjust="spacingAndGlyphs">2'-4"</text>
<text x="1164" y="415.9" font-size="10.5" fill="#27cfe0" text-anchor="middle" textLength="21.8" lengthAdjust="spacingAndGlyphs">11'-4"</text>
<text x="1270" y="408.3" font-size="10.5" fill="#27cfe0" text-anchor="middle" textLength="8" lengthAdjust="spacingAndGlyphs">4"</text>
<rect x="1008.8" y="413.2" width="31.8" height="204.8" fill="none" stroke="#d4282e" stroke-width="1.3"/>
<line x1="1023.8" y1="413.2" x2="1023.8" y2="475" stroke="#d4282e" stroke-width="1"/>
<line x1="1027.4" y1="413.2" x2="1027.4" y2="475" stroke="#d4282e" stroke-width="1"/>
<line x1="1030.4" y1="413.2" x2="1030.4" y2="475" stroke="#d4282e" stroke-width="1"/>
<line x1="1033.4" y1="413.2" x2="1033.4" y2="475" stroke="#d4282e" stroke-width="1"/>
<line x1="1036.4" y1="413.2" x2="1036.4" y2="475" stroke="#d4282e" stroke-width="1"/>
<line x1="1023.8" y1="514.6" x2="1023.8" y2="575" stroke="#d4282e" stroke-width="1"/>
<line x1="1027.4" y1="514.6" x2="1027.4" y2="575" stroke="#d4282e" stroke-width="1"/>
<line x1="1030.4" y1="514.6" x2="1030.4" y2="575" stroke="#d4282e" stroke-width="1"/>
<line x1="1033.4" y1="514.6" x2="1033.4" y2="575" stroke="#d4282e" stroke-width="1"/>
<line x1="1036.4" y1="514.6" x2="1036.4" y2="575" stroke="#d4282e" stroke-width="1"/>
<line x1="1011.5" y1="575" x2="1011.5" y2="618" stroke="#d4282e" stroke-width="1"/>
<line x1="1014.8" y1="575" x2="1014.8" y2="618" stroke="#d4282e" stroke-width="1"/>
<line x1="1018.1" y1="575" x2="1018.1" y2="618" stroke="#d4282e" stroke-width="1"/>
<line x1="1021.4" y1="575" x2="1021.4" y2="618" stroke="#d4282e" stroke-width="1"/>
<line x1="1024.7" y1="575" x2="1024.7" y2="618" stroke="#d4282e" stroke-width="1"/>
<line x1="1028" y1="575" x2="1028" y2="618" stroke="#d4282e" stroke-width="1"/>
<line x1="1031.3" y1="575" x2="1031.3" y2="618" stroke="#d4282e" stroke-width="1"/>
<line x1="1034.6" y1="575" x2="1034.6" y2="618" stroke="#d4282e" stroke-width="1"/>
<line x1="1037.9" y1="575" x2="1037.9" y2="618" stroke="#d4282e" stroke-width="1"/>
<line x1="1008.8" y1="575" x2="1040.6" y2="575" stroke="#d4282e" stroke-width="1.2"/>
<rect x="1009.4" y="475" width="30.6" height="39.6" fill="#5a1e22" stroke="#d2d22c" stroke-width="1.6"/>
<circle cx="1018.4" cy="484" r="5" fill="none" stroke="#d2d22c" stroke-width="1.1"/>
<circle cx="1032.2" cy="484" r="3.6" fill="none" stroke="#e0a030" stroke-width="1.1"/>
<circle cx="1018.4" cy="505.6" r="5" fill="none" stroke="#d2d22c" stroke-width="1.1"/>
<circle cx="1032.2" cy="505.6" r="3.6" fill="none" stroke="#e0a030" stroke-width="1.1"/>
<rect x="1019.6" y="492.4" width="18" height="4.8" fill="#f0f020" stroke="#d2d22c" stroke-width="0.6"/>
<text x="986.6" y="491.8" font-size="11" fill="#e4e4e8" text-anchor="middle" textLength="28" lengthAdjust="spacingAndGlyphs">COOK</text>
<text x="986.6" y="502" font-size="11" fill="#e4e4e8" text-anchor="middle" textLength="20" lengthAdjust="spacingAndGlyphs">TOP</text>
<text x="987.8" y="597.6" font-size="11" fill="#e4e4e8" text-anchor="middle" textLength="32" lengthAdjust="spacingAndGlyphs">OVENS</text>
<rect x="894.2" y="444.4" width="52.8" height="157.4" fill="none" stroke="#d4282e" stroke-width="1.3"/>
<rect x="915.2" y="468.4" width="31.2" height="31.8" fill="none" stroke="#d2d22c" stroke-width="1.3" stroke-dasharray="5,3"/>
<text x="929" y="488.2" font-size="11" fill="#e4e4e8" text-anchor="middle" textLength="14" lengthAdjust="spacingAndGlyphs">DW</text>
<rect x="923" y="503.8" width="21" height="19.2" fill="none" stroke="#d2d22c" stroke-width="1.3" rx="2"/>
<rect x="923" y="523" width="21" height="19.8" fill="none" stroke="#d2d22c" stroke-width="1.3" rx="2"/>
<text x="920" y="556.6" font-size="11" fill="#e4e4e8" text-anchor="middle" textLength="50" lengthAdjust="spacingAndGlyphs">3/6 x 10/0</text>
<text x="917" y="567.4" font-size="11" fill="#e4e4e8" text-anchor="middle" textLength="35" lengthAdjust="spacingAndGlyphs">ISLAND</text>
<text x="917" y="577" font-size="11" fill="#e4e4e8" text-anchor="middle" textLength="52" lengthAdjust="spacingAndGlyphs">PER BLDR.</text>
<text x="950" y="630" font-size="11" fill="#e4e4e8" text-anchor="middle" textLength="42" lengthAdjust="spacingAndGlyphs">2/4 CAB.</text>
<text x="950" y="640.2" font-size="11" fill="#e4e4e8" text-anchor="middle" textLength="40" lengthAdjust="spacingAndGlyphs">PNL. DR</text>
<text x="950" y="650.4" font-size="11" fill="#e4e4e8" text-anchor="middle" textLength="83" lengthAdjust="spacingAndGlyphs">PER CAB. MANUF.</text>
<text x="1017.2" y="633" font-size="11" fill="#e4e4e8" text-anchor="middle" textLength="44" lengthAdjust="spacingAndGlyphs">2/8 x 8/0</text>
<text x="1017.2" y="643.2" font-size="11" fill="#e4e4e8" text-anchor="middle" textLength="20" lengthAdjust="spacingAndGlyphs">C.O.</text>
<text x="955.4" y="667.8" font-size="11" fill="#e4e4e8" text-anchor="middle" textLength="46" lengthAdjust="spacingAndGlyphs">DBL. REF.</text>
<path d="M988,655 C992,668 998,670 1020,662" fill="none" stroke="#e4e4e8" stroke-width="0.9"/>
<polyline points="1001,676.2 1010.6,652.8" fill="none" stroke="#d4282e" stroke-width="1.2"/>
<polyline points="1010.6,652.8 1039.4,679.8" fill="none" stroke="#d4282e" stroke-width="2.2"/>
<rect x="1045.4" y="604.8" width="13.8" height="12.6" fill="none" stroke="#e4e4e8" stroke-width="0.9"/>
<text x="1052.3" y="614.6" font-size="10.5" fill="#e4e4e8" text-anchor="middle" textLength="11" lengthAdjust="spacingAndGlyphs">SD</text>
<rect x="897.2" y="672.6" width="13.2" height="6" fill="url(#st)"/>
<rect x="904.4" y="678.6" width="6" height="521.4" fill="url(#st)"/>
<rect x="910.4" y="708.6" width="91.2" height="6" fill="url(#st)"/>
<rect x="996.2" y="679.8" width="5.4" height="34.8" fill="url(#st)"/>
<line x1="910.4" y1="677" x2="996.2" y2="677" stroke="#d4282e" stroke-width="1.1"/>
<line x1="910.4" y1="680.6" x2="996.2" y2="680.6" stroke="#d4282e" stroke-width="1.1"/>
<line x1="910.4" y1="684.2" x2="996.2" y2="684.2" stroke="#d4282e" stroke-width="1.1"/>
<line x1="910.4" y1="687.8" x2="996.2" y2="687.8" stroke="#d4282e" stroke-width="1.1"/>
<line x1="910.4" y1="691.4" x2="996.2" y2="691.4" stroke="#d4282e" stroke-width="1.1"/>
<line x1="910.4" y1="695" x2="996.2" y2="695" stroke="#d4282e" stroke-width="1.1"/>
<line x1="910.4" y1="698.6" x2="996.2" y2="698.6" stroke="#d4282e" stroke-width="1.1"/>
<line x1="910.4" y1="702.2" x2="996.2" y2="702.2" stroke="#d4282e" stroke-width="1.1"/>
<line x1="910.4" y1="705.8" x2="996.2" y2="705.8" stroke="#d4282e" stroke-width="1.1"/>
<line x1="880" y1="673.2" x2="897" y2="673.2" stroke="#d4282e" stroke-width="1.3" stroke-dasharray="7,4"/>
<line x1="880" y1="678" x2="897" y2="678" stroke="#d4282e" stroke-width="1.3" stroke-dasharray="7,4"/>
<line x1="880" y1="730.2" x2="904" y2="730.2" stroke="#d4282e" stroke-width="1.3" stroke-dasharray="7,4"/>
<line x1="880" y1="734.4" x2="904" y2="734.4" stroke="#d4282e" stroke-width="1.3" stroke-dasharray="7,4"/>
<line x1="936.8" y1="672" x2="936.8" y2="806.8" stroke="#27cfe0" stroke-width="1.2"/>
<line x1="918.8" y1="672.6" x2="936.8" y2="672.6" stroke="#27cfe0" stroke-width="1.2"/>
<line x1="932.3" y1="678.9" x2="941.3" y2="669.9" stroke="#27cfe0" stroke-width="1.4"/>
<line x1="932.3" y1="718.5" x2="941.3" y2="709.5" stroke="#27cfe0" stroke-width="1.4"/>
<line x1="932.3" y1="808.3" x2="941.3" y2="799.3" stroke="#27cfe0" stroke-width="1.4"/>
<text x="934.8" y="693.6" font-size="10.5" fill="#27cfe0" text-anchor="middle" transform="rotate(-90 934.8 693.6)" textLength="17.6" lengthAdjust="spacingAndGlyphs">2'-8"</text>
<text x="934.8" y="752.8" font-size="10.5" fill="#27cfe0" text-anchor="middle" transform="rotate(-90 934.8 752.8)" textLength="17.6" lengthAdjust="spacingAndGlyphs">5'-8"</text>
<line x1="998.6" y1="725.4" x2="1039.4" y2="725.4" stroke="#27cfe0" stroke-width="1.5"/>
<line x1="994.1" y1="729.9" x2="1003.1" y2="720.9" stroke="#27cfe0" stroke-width="1.4"/>
<line x1="1034.9" y1="729.9" x2="1043.9" y2="720.9" stroke="#27cfe0" stroke-width="1.4"/>
<text x="1017.2" y="723.7" font-size="10.5" fill="#27cfe0" text-anchor="middle" textLength="17.6" lengthAdjust="spacingAndGlyphs">2'-9"</text>
<line x1="998.6" y1="716" x2="998.6" y2="728" stroke="#27cfe0" stroke-width="1"/>
<line x1="1039.4" y1="716" x2="1039.4" y2="728" stroke="#27cfe0" stroke-width="1"/>
<polyline points="925.4,762 925.4,730.6 999.2,730.6 999.2,715.8" fill="none" stroke="#2ec42e" stroke-width="1.2"/>
<polyline points="925.4,762 925.4,782.2 1025,782.2 1025,762.4 1040,762.4" fill="none" stroke="#2ec42e" stroke-width="1.2"/>
<text x="975.2" y="748" font-size="11" fill="#e4e4e8" text-anchor="middle" textLength="52" lengthAdjust="spacingAndGlyphs">PANTRY</text>
<line x1="949" y1="751" x2="1001" y2="751" stroke="#e4e4e8" stroke-width="0.9"/>
<line x1="906" y1="766.6" x2="1260" y2="766.6" stroke="#27cfe0" stroke-width="1.5"/>
<line x1="905.9" y1="771.1" x2="914.9" y2="762.1" stroke="#27cfe0" stroke-width="1.4"/>
<line x1="1038.5" y1="771.1" x2="1047.5" y2="762.1" stroke="#27cfe0" stroke-width="1.4"/>
<line x1="1252.5" y1="771.1" x2="1261.5" y2="762.1" stroke="#27cfe0" stroke-width="1.4"/>
<text x="972.8" y="765.5" font-size="10.5" fill="#27cfe0" text-anchor="middle" textLength="17.6" lengthAdjust="spacingAndGlyphs">8'-8"</text>
<text x="1148" y="764.9" font-size="10.5" fill="#27cfe0" text-anchor="middle" textLength="22.5" lengthAdjust="spacingAndGlyphs">13'-8"</text>
<text x="932" y="749.3" font-size="10.5" fill="#27cfe0" text-anchor="middle"></text>
<rect x="904.4" y="797.8" width="146.4" height="6" fill="url(#st)"/>
<polyline points="1050.8,800.8 1080.8,769" fill="none" stroke="#d2d22c" stroke-width="1.8"/>
<path d="M1080.8,769 Q1093,782 1093.4,804.4" fill="none" stroke="#d2d22c" stroke-width="1"/>
<line x1="1050" y1="805" x2="1095" y2="805" stroke="#d2d22c" stroke-width="1.2"/>
<text x="1073.6" y="815.8" font-size="11" fill="#e4e4e8" text-anchor="middle" textLength="34" lengthAdjust="spacingAndGlyphs">20 MIN.</text>
<text x="1073.6" y="825.4" font-size="11" fill="#e4e4e8" text-anchor="middle" textLength="36" lengthAdjust="spacingAndGlyphs">2/8 STL.</text>
<rect x="1255" y="275" width="6" height="528.2" fill="url(#st)"/>
<rect x="1041" y="280.4" width="6" height="91.6" fill="url(#st)"/>
<line x1="1059" y1="285" x2="1059" y2="369" stroke="#2ec42e" stroke-width="1.2" stroke-dasharray="4,2"/>
<rect x="1076" y="280.4" width="6.5" height="12.1" fill="url(#st)"/>
<rect x="1076" y="356" width="6.5" height="19" fill="url(#st)"/>
<rect x="1041" y="369" width="41.5" height="6" fill="url(#st)"/>
<polyline points="1081,294 1104,316 1085,322" fill="none" stroke="#d2d22c" stroke-width="1.6"/>
<polyline points="1085,328 1104,338 1081,356" fill="none" stroke="#d2d22c" stroke-width="1.6"/>
<text x="1077.5" y="320" font-size="11" fill="#e4e4e8" text-anchor="middle" textLength="30" lengthAdjust="spacingAndGlyphs">PR 2/0</text>
<text x="1172" y="370" font-size="20" fill="#c82ccc" text-anchor="middle" textLength="145" lengthAdjust="spacingAndGlyphs">STUDY/BDRM.#2</text>
<line x1="1096" y1="374" x2="1245" y2="374" stroke="#c82ccc" stroke-width="1.2"/>
<line x1="1122.5" y1="270" x2="1122.5" y2="803" stroke="#27cfe0" stroke-width="1.5"/>
<line x1="1118" y1="284.9" x2="1127" y2="275.9" stroke="#27cfe0" stroke-width="1.4"/>
<line x1="1118" y1="378.5" x2="1127" y2="369.5" stroke="#27cfe0" stroke-width="1.4"/>
<line x1="1118" y1="496.5" x2="1127" y2="487.5" stroke="#27cfe0" stroke-width="1.4"/>
<line x1="1118" y1="580.1" x2="1127" y2="571.1" stroke="#27cfe0" stroke-width="1.4"/>
<line x1="1118" y1="587.9" x2="1127" y2="578.9" stroke="#27cfe0" stroke-width="1.4"/>
<line x1="1118" y1="807.5" x2="1127" y2="798.5" stroke="#27cfe0" stroke-width="1.4"/>
<text x="1139.8" y="290" font-size="10.5" fill="#27cfe0" text-anchor="middle" transform="rotate(-90 1139.8 290)" textLength="8" lengthAdjust="spacingAndGlyphs">4"</text>
<text x="1119.8" y="325" font-size="10.5" fill="#27cfe0" text-anchor="middle" transform="rotate(-90 1119.8 325)" textLength="17.6" lengthAdjust="spacingAndGlyphs">6'-0"</text>
<text x="1119.8" y="436" font-size="10.5" fill="#27cfe0" text-anchor="middle" transform="rotate(-90 1119.8 436)" textLength="17.6" lengthAdjust="spacingAndGlyphs">7'-8"</text>
<text x="1119.8" y="546.8" font-size="10.5" fill="#27cfe0" text-anchor="middle" transform="rotate(-90 1119.8 546.8)" textLength="17.6" lengthAdjust="spacingAndGlyphs">5'-2"</text>
<text x="1119.8" y="567.2" font-size="10.5" fill="#27cfe0" text-anchor="middle" transform="rotate(-90 1119.8 567.2)" textLength="8" lengthAdjust="spacingAndGlyphs">6"</text>
<text x="1119.8" y="692.8" font-size="10.5" fill="#27cfe0" text-anchor="middle" transform="rotate(-90 1119.8 692.8)" textLength="22.5" lengthAdjust="spacingAndGlyphs">14'-0"</text>
<line x1="1077" y1="382.5" x2="1077" y2="417.8" stroke="#27cfe0" stroke-width="1.2"/>
<rect x="1046.6" y="489.4" width="4.8" height="5.4" fill="url(#st)"/>
<rect x="1092.8" y="489.2" width="162" height="6" fill="url(#st)"/>
<polyline points="1049,492 1080.8,460.6" fill="none" stroke="#d2d22c" stroke-width="1.8"/>
<path d="M1080.8,460.6 Q1094,472 1094,493" fill="none" stroke="#d2d22c" stroke-width="1"/>
<text x="1076" y="489.4" font-size="11" fill="#e4e4e8" text-anchor="middle" textLength="14" lengthAdjust="spacingAndGlyphs">2/8</text>
<rect x="1103" y="476.6" width="13.2" height="11.4" fill="none" stroke="#e4e4e8" stroke-width="0.9"/>
<text x="1109.6" y="486" font-size="10.5" fill="#e4e4e8" text-anchor="middle" textLength="11" lengthAdjust="spacingAndGlyphs">SD</text>
<line x1="1046" y1="508.4" x2="1255" y2="508.4" stroke="#27cfe0" stroke-width="1.5"/>
<line x1="1098.5" y1="512.9" x2="1107.5" y2="503.9" stroke="#27cfe0" stroke-width="1.4"/>
<line x1="1250.3" y1="512.9" x2="1259.3" y2="503.9" stroke="#27cfe0" stroke-width="1.4"/>
<line x1="1041.5" y1="512.9" x2="1050.5" y2="503.9" stroke="#27cfe0" stroke-width="1.4"/>
<text x="1071.8" y="506.9" font-size="10.5" fill="#27cfe0" text-anchor="middle" textLength="17.6" lengthAdjust="spacingAndGlyphs">4'-0"</text>
<text x="1179.8" y="506.7" font-size="10.5" fill="#27cfe0" text-anchor="middle" textLength="17.6" lengthAdjust="spacingAndGlyphs">9'-8"</text>
<text x="1074.8" y="551.2" font-size="11" fill="#e4e4e8" text-anchor="middle" textLength="42" lengthAdjust="spacingAndGlyphs">3/0 PKT.</text>
<text x="1074.8" y="560.8" font-size="11" fill="#e4e4e8" text-anchor="middle" textLength="34" lengthAdjust="spacingAndGlyphs">VERIFY</text>
<text x="1074.8" y="570.4" font-size="11" fill="#e4e4e8" text-anchor="middle" textLength="44" lengthAdjust="spacingAndGlyphs">W/ BLDR.</text>
<rect x="1103" y="536.6" width="6" height="39" fill="url(#st)"/>
<rect x="1103" y="495" width="6" height="5" fill="url(#st)"/>
<polyline points="1108.4,500 1134.8,525.8" fill="none" stroke="#d2d22c" stroke-width="1.8"/>
<path d="M1134.8,525.8 Q1125,537 1109,537.2" fill="none" stroke="#d2d22c" stroke-width="1"/>
<text x="1107" y="522" font-size="11" fill="#e4e4e8" text-anchor="middle" textLength="14" lengthAdjust="spacingAndGlyphs">2/4</text>
<rect x="1137.2" y="575.6" width="123.6" height="7.8" fill="url(#st)"/>
<rect x="1046" y="575.6" width="8.4" height="7.8" fill="url(#st)"/>
<rect x="1095.2" y="575.6" width="42" height="7.8" fill="none" stroke="#9a9aa0" stroke-width="0.8"/>
<rect x="1079.6" y="578" width="32.4" height="3.6" fill="#d2d22c" stroke="#d2d22c" stroke-width="0.6"/>
<rect x="1112" y="549.2" width="52.2" height="26.4" fill="none" stroke="#d4282e" stroke-width="1.2"/>
<circle cx="1136" cy="562.4" r="10" fill="none" stroke="#27cfe0" stroke-width="1.5"/>
<circle cx="1136" cy="562.4" r="7.5" fill="none" stroke="#27cfe0" stroke-width="1"/>
<rect x="1171.4" y="562.4" width="29.4" height="11.4" fill="none" stroke="#27cfe0" stroke-width="1.3" rx="2"/>
<path d="M1173,562.4 C1172,545 1180,535.4 1186,535.4 C1192,535.4 1200,545 1199,562.4" fill="none" stroke="#27cfe0" stroke-width="1.4"/>
<path d="M1177,562 C1176,552 1181,543 1186,543 C1191,543 1196,552 1195,562" fill="none" stroke="#27cfe0" stroke-width="1"/>
<line x1="1213.4" y1="495" x2="1213.4" y2="575.6" stroke="#27cfe0" stroke-width="1.2"/>
<line x1="1217.6" y1="495" x2="1217.6" y2="575.6" stroke="#27cfe0" stroke-width="1.2"/>
<line x1="1217.6" y1="495" x2="1254.8" y2="575.6" stroke="#27cfe0" stroke-width="1"/>
<line x1="1254.8" y1="495" x2="1217.6" y2="575.6" stroke="#27cfe0" stroke-width="1"/>
<text x="1236.8" y="555.2" font-size="11" fill="#e4e4e8" text-anchor="middle" textLength="30" lengthAdjust="spacingAndGlyphs">SHWR.</text>
<polyline points="1103,584 1254.8,584" fill="none" stroke="#d4282e" stroke-width="1.2"/>
<polyline points="1103,587 1251.8,587 1251.8,795.4 1186.4,795.4" fill="none" stroke="#d4282e" stroke-width="1.1"/>
<polyline points="1103,589.4 1249.4,589.4 1249.4,793 1186.4,793" fill="none" stroke="#d4282e" stroke-width="1.1"/>
<polyline points="1103,594.8 1244,594.8 1244,787.6 1186.4,787.6" fill="none" stroke="#d4282e" stroke-width="1.1"/>
<polyline points="1103,600.8 1238,600.8 1238,781.6 1186.4,781.6" fill="none" stroke="#d4282e" stroke-width="1.1"/>
<polyline points="1103,584 1103,615.2 1224.2,615.2 1224.2,655" fill="none" stroke="#d4282e" stroke-width="1.2"/>
<polyline points="1224.2,734.8 1224.2,766 1186.4,766 1186.4,798" fill="none" stroke="#d4282e" stroke-width="1.2"/>
<line x1="1224.2" y1="734.8" x2="1254.8" y2="734.8" stroke="#d4282e" stroke-width="1.2"/>
<rect x="1155.2" y="590" width="27" height="23.4" fill="none" stroke="#27cfe0" stroke-width="1.3" rx="3"/>
<circle cx="1169" cy="602.6" r="1.8" fill="none" stroke="#27cfe0" stroke-width="1"/>
<text x="1169" y="624.8" font-size="11" fill="#e4e4e8" text-anchor="middle" textLength="22" lengthAdjust="spacingAndGlyphs">SINK</text>
<rect x="1215.8" y="655" width="36.6" height="36.6" fill="none" stroke="#d2d22c" stroke-width="1.3"/>
<rect x="1221.2" y="660.4" width="24" height="25.8" fill="none" stroke="#d2d22c" stroke-width="1.2"/>
<rect x="1215.8" y="691.6" width="36.6" height="38.4" fill="none" stroke="#d2d22c" stroke-width="1.3"/>
<text x="1230.8" y="681" font-size="10" fill="#e4e4e8" text-anchor="middle" textLength="9" lengthAdjust="spacingAndGlyphs">W</text>
<text x="1230.8" y="718" font-size="10" fill="#e4e4e8" text-anchor="middle" textLength="8" lengthAdjust="spacingAndGlyphs">D</text>
<text x="1172.6" y="715" font-size="12" fill="#e4e4e8" text-anchor="middle" textLength="70" lengthAdjust="spacingAndGlyphs">MUDROOM/</text>
<line x1="1137.5" y1="717.8" x2="1207.5" y2="717.8" stroke="#e4e4e8" stroke-width="1"/>
<text x="1172.6" y="730" font-size="12" fill="#e4e4e8" text-anchor="middle" textLength="60" lengthAdjust="spacingAndGlyphs">LAUNDRY</text>
<line x1="1142" y1="732.6" x2="1203" y2="732.6" stroke="#e4e4e8" stroke-width="1"/>
<polyline points="1108.4,798 1108.4,778 1186.4,778" fill="none" stroke="#2ec42e" stroke-width="1.2"/>
<text x="1155.8" y="787" font-size="11" fill="#e4e4e8" text-anchor="middle" textLength="46" lengthAdjust="spacingAndGlyphs">BENCH W/</text>
<text x="1155.8" y="796" font-size="11" fill="#e4e4e8" text-anchor="middle" textLength="56" lengthAdjust="spacingAndGlyphs">COAT PEGS</text>
<rect x="1093.4" y="798.4" width="167.4" height="4.8" fill="url(#st)"/>
<rect x="1142.6" y="804.4" width="39" height="29" fill="none" stroke="#27cfe0" stroke-width="1.4"/>
<rect x="1146" y="808" width="32" height="22" fill="none" stroke="#27cfe0" stroke-width="1"/>
<circle cx="1162" cy="817" r="1.8" fill="none" stroke="#27cfe0" stroke-width="1"/>
<text x="1162" y="828" font-size="10.5" fill="#e4e4e8" text-anchor="middle" textLength="10" lengthAdjust="spacingAndGlyphs">LT</text>
<rect x="695.8" y="736" width="5.1" height="54.6" fill="url(#st)"/>
<rect x="695.8" y="900.3" width="5.1" height="54.4" fill="url(#st)"/>
<rect x="576" y="935.1" width="17" height="5.1" fill="url(#st)"/>
<rect x="576" y="940.2" width="17" height="5.1" fill="url(#ht)" stroke="#9a9aa0" stroke-width="0.8"/>
<rect x="678.8" y="935.1" width="17" height="5.1" fill="url(#st)"/>
<rect x="678.8" y="940.2" width="17" height="5.1" fill="url(#ht)" stroke="#9a9aa0" stroke-width="0.8"/>
<rect x="689" y="945.3" width="6.8" height="21.2" fill="url(#ht)" stroke="#9a9aa0" stroke-width="0.8"/>
<polyline points="593,937 623.5,904.5" fill="none" stroke="#d2d22c" stroke-width="1.8"/>
<path d="M623.5,904.5 Q634,915 635.5,933.4" fill="none" stroke="#d2d22c" stroke-width="1"/>
<polyline points="678.8,937 647.4,904.5" fill="none" stroke="#d2d22c" stroke-width="1.8"/>
<path d="M647.4,904.5 Q637,915 635.5,933.4" fill="none" stroke="#d2d22c" stroke-width="1"/>
<line x1="588.7" y1="947" x2="682.2" y2="947" stroke="#d2d22c" stroke-width="1.2"/>
<text x="631.2" y="958" font-size="11" fill="#e4e4e8" text-anchor="middle" textLength="62" lengthAdjust="spacingAndGlyphs">PR. 2/8 x 8/0</text>
<text x="633" y="967.4" font-size="11" fill="#e4e4e8" text-anchor="middle" textLength="34" lengthAdjust="spacingAndGlyphs">3/4 GL.</text>
<text x="661.8" y="843.3" font-size="11" fill="#e4e4e8" text-anchor="middle" textLength="45" lengthAdjust="spacingAndGlyphs">7/0 x 8/0</text>
<text x="661.8" y="853.5" font-size="11" fill="#e4e4e8" text-anchor="middle" textLength="20" lengthAdjust="spacingAndGlyphs">C.O.</text>
<text x="637.6" y="877.3" font-size="20" fill="#c82ccc" text-anchor="middle" textLength="65" lengthAdjust="spacingAndGlyphs">FOYER</text>
<line x1="604.9" y1="881" x2="670.3" y2="881" stroke="#c82ccc" stroke-width="1.2"/>
<line x1="635.5" y1="948" x2="635.5" y2="1057" stroke="#d4282e" stroke-width="1.3" stroke-dasharray="8,6"/>
<rect x="700.9" y="954.7" width="40.8" height="5.9" fill="url(#st)"/>
<rect x="860.7" y="954.7" width="43.3" height="5.9" fill="url(#st)"/>
<rect x="689" y="960.6" width="52.7" height="5.9" fill="url(#ht)" stroke="#9a9aa0" stroke-width="0.8"/>
<rect x="860.7" y="960.6" width="43.3" height="5.9" fill="url(#ht)" stroke="#9a9aa0" stroke-width="0.8"/>
<rect x="741.7" y="955" width="119" height="5.6" fill="none" stroke="#d2d22c" stroke-width="1.1"/>
<line x1="741.7" y1="957.8" x2="860.7" y2="957.8" stroke="#d2d22c" stroke-width="0.8"/>
<rect x="778.5" y="956" width="3" height="4" fill="none" stroke="#d2d22c" stroke-width="0.8"/>
<rect x="824.4" y="956" width="3" height="4" fill="none" stroke="#d2d22c" stroke-width="0.8"/>
<polyline points="741.7,961 743.5,968.3 861.5,968.3 863.3,961" fill="none" stroke="#d2d22c" stroke-width="1.1"/>
<text x="780" y="953.8" font-size="11" fill="#2ec42e" text-anchor="middle" textLength="19" lengthAdjust="spacingAndGlyphs">DSP</text>
<text x="825.9" y="953.8" font-size="11" fill="#2ec42e" text-anchor="middle" textLength="19" lengthAdjust="spacingAndGlyphs">DSP</text>
<text x="808" y="977.6" font-size="11" fill="#e4e4e8" text-anchor="middle" textLength="60" lengthAdjust="spacingAndGlyphs">2/8 x 6/0 SH</text>
<text x="765.5" y="988.7" font-size="11" fill="#e4e4e8" text-anchor="middle" textLength="58" lengthAdjust="spacingAndGlyphs">2/0 x 6/0 SH</text>
<text x="843.7" y="988.7" font-size="11" fill="#e4e4e8" text-anchor="middle" textLength="58" lengthAdjust="spacingAndGlyphs">2/0 x 6/0 SH</text>
<rect x="721.3" y="756" width="163.2" height="178.3" fill="none" stroke="#d4282e" stroke-width="1.4" stroke-dasharray="9,7"/>
<line x1="723.3" y1="765.4" x2="875.3" y2="932.4" stroke="#d4282e" stroke-width="1.4" stroke-dasharray="9,7"/>
<line x1="730.7" y1="758.6" x2="882.7" y2="925.6" stroke="#d4282e" stroke-width="1.4" stroke-dasharray="9,7"/>
<line x1="875.3" y1="758.6" x2="723.3" y2="925.6" stroke="#d4282e" stroke-width="1.4" stroke-dasharray="9,7"/>
<line x1="882.7" y1="765.4" x2="730.7" y2="932.4" stroke="#d4282e" stroke-width="1.4" stroke-dasharray="9,7"/>
<path d="M700.9,868 L716,868 L716,864.5 L740,864.5 L740,869 L721,869 L721,878.2 L700.9,878.2 Z" fill="url(#rh)" stroke="#d4282e" stroke-width="1"/>
<text x="734" y="878" font-size="11" fill="#2ec42e" text-anchor="middle" textLength="19" lengthAdjust="spacingAndGlyphs">10/0</text>
<text x="712" y="888.4" font-size="11" fill="#2ec42e" text-anchor="middle" textLength="14" lengthAdjust="spacingAndGlyphs">9/4</text>
<line x1="741.7" y1="766" x2="741.7" y2="957" stroke="#27cfe0" stroke-width="1.2"/>
<line x1="737.2" y1="959.5" x2="746.2" y2="950.5" stroke="#27cfe0" stroke-width="1.4"/>
<text x="739.8" y="846.7" font-size="10.5" fill="#27cfe0" text-anchor="middle" transform="rotate(-90 739.8 846.7)" textLength="22.5" lengthAdjust="spacingAndGlyphs">14'-0"</text>
<text x="814" y="831.4" font-size="20" fill="#c82ccc" text-anchor="middle" textLength="129" lengthAdjust="spacingAndGlyphs">DINING ROOM</text>
<line x1="749.4" y1="834" x2="878.6" y2="834" stroke="#c82ccc" stroke-width="1.2"/>
<text x="802.9" y="908.8" font-size="10.5" fill="#e4e4e8" text-anchor="middle" textLength="50" lengthAdjust="spacingAndGlyphs">COFFERED</text>
<text x="802.9" y="917.3" font-size="10.5" fill="#e4e4e8" text-anchor="middle" textLength="50" lengthAdjust="spacingAndGlyphs">TRAY CLG.</text>
<text x="804" y="927.5" font-size="10.5" fill="#e4e4e8" text-anchor="middle" textLength="54" lengthAdjust="spacingAndGlyphs">PER BLDR.</text>
<path d="M775,912 C762,905 750,895 758,886 C764,880 770,879 775,879" fill="none" stroke="#e4e4e8" stroke-width="0.9"/>
<path d="M835,913 C850,910 860,906 866,898 C872,890 876,884 880,877" fill="none" stroke="#e4e4e8" stroke-width="0.9"/>
<line x1="697" y1="792" x2="697" y2="899" stroke="#d4282e" stroke-width="1.3" stroke-dasharray="8,5"/>
<line x1="700.4" y1="792" x2="700.4" y2="899" stroke="#d4282e" stroke-width="1.3" stroke-dasharray="8,5"/>
<line x1="884" y1="770" x2="884" y2="934" stroke="#d4282e" stroke-width="1.3" stroke-dasharray="8,6"/>
<rect x="563.6" y="1047.3" width="14.4" height="12.7" fill="url(#st)"/>
<rect x="693.2" y="1047.3" width="13.5" height="12.7" fill="url(#st)"/>
<rect x="879.5" y="1047.3" width="13.5" height="12.7" fill="url(#st)"/>
<line x1="706.7" y1="1049" x2="879.5" y2="1049" stroke="#d4282e" stroke-width="1.3" stroke-dasharray="8,6"/>
<line x1="706.7" y1="1057" x2="879.5" y2="1057" stroke="#d4282e" stroke-width="1.3" stroke-dasharray="8,6"/>
<line x1="578" y1="1057" x2="693.2" y2="1057" stroke="#d4282e" stroke-width="1.3" stroke-dasharray="8,6"/>
<line x1="695" y1="968" x2="695" y2="1047" stroke="#d4282e" stroke-width="1.3" stroke-dasharray="8,6"/>
<line x1="703" y1="968" x2="703" y2="1047" stroke="#d4282e" stroke-width="1.3" stroke-dasharray="8,6"/>
<line x1="561.8" y1="1060.8" x2="898.4" y2="1060.8" stroke="#27cfe0" stroke-width="1.5"/>
<line x1="582" y1="945" x2="582" y2="1283" stroke="#27cfe0" stroke-width="1.2"/>
<line x1="635.2" y1="1065" x2="635.2" y2="1283" stroke="#27cfe0" stroke-width="1.2"/>
<line x1="688.7" y1="975" x2="688.7" y2="1283" stroke="#27cfe0" stroke-width="1.2"/>
<line x1="803" y1="975" x2="803" y2="1283" stroke="#27cfe0" stroke-width="1.2"/>
<text x="602.3" y="1014.9" font-size="10" fill="#2ec42e" text-anchor="middle" textLength="28" lengthAdjust="spacingAndGlyphs">CATH.</text>
<line x1="588.8" y1="1017.6" x2="621.2" y2="1017.6" stroke="#2ec42e" stroke-width="1"/>
<polygon points="617,1015.6 621.2,1017.6 617,1019.6" fill="#2ec42e" stroke="#2ec42e" stroke-width="1"/>
<text x="668" y="1014.9" font-size="10" fill="#2ec42e" text-anchor="middle" textLength="28" lengthAdjust="spacingAndGlyphs">CATH.</text>
<line x1="650" y1="1017.6" x2="682.4" y2="1017.6" stroke="#2ec42e" stroke-width="1"/>
<polygon points="654,1015.6 650,1017.6 654,1019.6" fill="#2ec42e" stroke="#2ec42e" stroke-width="1"/>
<text x="612.2" y="1035.6" font-size="11" fill="#e4e4e8" text-anchor="middle" textLength="32" lengthAdjust="spacingAndGlyphs">BRICK</text>
<text x="612.2" y="1044.6" font-size="11" fill="#e4e4e8" text-anchor="middle" textLength="32" lengthAdjust="spacingAndGlyphs">LEDGE</text>
<path d="M590,1039 C583,1036 581,1025 578,1010" fill="none" stroke="#e4e4e8" stroke-width="0.9"/>
<text x="731" y="1029.3" font-size="11" fill="#e4e4e8" text-anchor="middle" textLength="38" lengthAdjust="spacingAndGlyphs">SOFFITS</text>
<text x="731" y="1038.3" font-size="11" fill="#e4e4e8" text-anchor="middle" textLength="34" lengthAdjust="spacingAndGlyphs">ABOVE</text>
<path d="M713,1030 C706,1028 705,1020 705,1010" fill="none" stroke="#e4e4e8" stroke-width="0.9"/>
<path d="M750,1033 C756,1035 760,1045 766,1049" fill="none" stroke="#e4e4e8" stroke-width="0.9"/>
<text x="807" y="1011.3" font-size="19" fill="#c82ccc" text-anchor="middle" textLength="96" lengthAdjust="spacingAndGlyphs">COVERED</text>
<line x1="758.9" y1="1014" x2="855.2" y2="1014" stroke="#c82ccc" stroke-width="1.2"/>
<text x="806" y="1031.1" font-size="19" fill="#c82ccc" text-anchor="middle" textLength="69" lengthAdjust="spacingAndGlyphs">PORCH</text>
<line x1="771.5" y1="1033.8" x2="840.8" y2="1033.8" stroke="#c82ccc" stroke-width="1.2"/>
<text x="855.2" y="1073.4" font-size="11" fill="#e4e4e8" text-anchor="middle" textLength="55" lengthAdjust="spacingAndGlyphs">FLAGSTONE</text>
<text x="855.2" y="1082.4" font-size="11" fill="#e4e4e8" text-anchor="middle" textLength="52" lengthAdjust="spacingAndGlyphs">FLOORING</text>
<path d="M826,1077 C815,1078 805,1075 815,1066 C822,1058 830,1052 843,1044" fill="none" stroke="#e4e4e8" stroke-width="0.9"/>
<text x="513" y="1076" font-size="11" fill="#e4e4e8" text-anchor="middle" textLength="62" lengthAdjust="spacingAndGlyphs">10" SQ. COLS.</text>
<text x="513" y="1086" font-size="11" fill="#e4e4e8" text-anchor="middle" textLength="50" lengthAdjust="spacingAndGlyphs">PER BLDR.</text>
<path d="M545,1074 C560,1074 568,1068 572,1058" fill="none" stroke="#e4e4e8" stroke-width="0.9"/>
<rect x="904.4" y="803.8" width="6" height="152.2" fill="url(#st)"/>
<rect x="898" y="956" width="6" height="249" fill="url(#ht)" stroke="#9a9aa0" stroke-width="0.8"/>
<rect x="904" y="956" width="6" height="249" fill="url(#st)"/>
<line x1="915" y1="960" x2="915" y2="1194" stroke="#27cfe0" stroke-width="1.2"/>
<polyline points="915,1194 1113,1194 1113,1218 1250,1218 1250,1183" fill="none" stroke="#27cfe0" stroke-width="1.2"/>
<rect x="898" y="1200" width="211" height="5" fill="url(#st)"/>
<polygon points="984,1198.5 1029,1198.5 1027,1206.5 986,1206.5" fill="#24293c" stroke="#d2d22c" stroke-width="1.2"/>
<line x1="985" y1="1202.5" x2="1028" y2="1202.5" stroke="#d2d22c" stroke-width="0.8"/>
<rect x="1104" y="1200" width="5" height="29" fill="url(#st)"/>
<rect x="1104" y="1224" width="156.6" height="5" fill="url(#st)"/>
<rect x="1104" y="1229" width="156.6" height="6" fill="url(#ht)" stroke="#9a9aa0" stroke-width="0.8"/>
<rect x="1159" y="1222.5" width="47" height="7" fill="#24293c" stroke="#d2d22c" stroke-width="1.1"/>
<line x1="1159" y1="1226" x2="1206" y2="1226" stroke="#d2d22c" stroke-width="0.8"/>
<line x1="1157" y1="1237" x2="1208" y2="1237" stroke="#d2d22c" stroke-width="1.1"/>
<rect x="1255.5" y="856" width="5.5" height="42" fill="url(#st)"/>
<rect x="1255.5" y="1182" width="5.5" height="53" fill="url(#st)"/>
<text x="1010" y="1223" font-size="11" fill="#e4e4e8" text-anchor="middle" textLength="58" lengthAdjust="spacingAndGlyphs">2/8 x 6/2 SH</text>
<text x="1010" y="1233" font-size="11" fill="#e4e4e8" text-anchor="middle" textLength="52" lengthAdjust="spacingAndGlyphs">SET @ 7'-4"</text>
<text x="1010" y="1246" font-size="11" fill="#e4e4e8" text-anchor="middle" textLength="70" lengthAdjust="spacingAndGlyphs">ABV. MAIN FLR.</text>
<text x="1185" y="1249" font-size="11" fill="#e4e4e8" text-anchor="middle" textLength="58" lengthAdjust="spacingAndGlyphs">2/8 x 6/2 SH</text>
<text x="1185" y="1258" font-size="11" fill="#e4e4e8" text-anchor="middle" textLength="70" lengthAdjust="spacingAndGlyphs">ABV. MAIN FLR.</text>
<text x="1185" y="1266" font-size="11" fill="#e4e4e8" text-anchor="middle" textLength="52" lengthAdjust="spacingAndGlyphs">SET @ 7'-4"</text>
<text x="1113" y="1245.3" font-size="10.5" fill="#27cfe0" text-anchor="middle" textLength="8" lengthAdjust="spacingAndGlyphs">8"</text>
<text x="1020" y="921" font-size="22" fill="#c82ccc" text-anchor="middle" textLength="151" lengthAdjust="spacingAndGlyphs">2-CAR GARAGE</text>
<line x1="944.4" y1="923.6" x2="1096" y2="923.6" stroke="#c82ccc" stroke-width="1.3"/>
<text x="1016" y="943" font-size="15" fill="#e4e4e8" text-anchor="middle" textLength="79" lengthAdjust="spacingAndGlyphs">569 SQ. FT.</text>
<line x1="1123" y1="803" x2="1123" y2="1218" stroke="#27cfe0" stroke-width="1.2"/>
<text x="1120.8" y="1014" font-size="10.5" fill="#27cfe0" text-anchor="middle" transform="rotate(-90 1120.8 1014)" textLength="22.5" lengthAdjust="spacingAndGlyphs">26'-9"</text>
<rect x="1128" y="899" width="125" height="282" fill="none" stroke="#d2d22c" stroke-width="1.3" stroke-dasharray="5,3"/>
<line x1="1252.5" y1="891" x2="1252.5" y2="1189" stroke="#d2d22c" stroke-width="1.3"/>
<line x1="1271" y1="891" x2="1271" y2="1189" stroke="#d2d22c" stroke-width="1.3"/>
<line x1="1254" y1="900" x2="1271" y2="891" stroke="#d2d22c" stroke-width="1.2"/>
<line x1="1256" y1="1181" x2="1271" y2="1189" stroke="#d2d22c" stroke-width="1.2"/>
<text x="1320" y="1022" font-size="11" fill="#e4e4e8" text-anchor="middle" textLength="92" lengthAdjust="spacingAndGlyphs">18/0 X 8/0 O.H. DR.</text>
<line x1="1292" y1="892" x2="1292" y2="1194" stroke="#d4282e" stroke-width="1.3" stroke-dasharray="8,6"/>
<line x1="1261" y1="1194" x2="1292" y2="1194" stroke="#d4282e" stroke-width="1.3" stroke-dasharray="8,6"/>
<polyline points="1291.8,891.5 1449.3,891.5 1449.3,861.4" fill="none" stroke="#d4282e" stroke-width="1.3" stroke-dasharray="8,6"/>
<rect x="1255" y="856" width="39" height="5.4" fill="url(#st)"/>
<polyline points="1249.6,897.8 1249.6,850.9 1292.5,850.9" fill="none" stroke="#27cfe0" stroke-width="1.2"/>
<text x="1196" y="873" font-size="11" fill="#e4e4e8" text-anchor="middle" textLength="58" lengthAdjust="spacingAndGlyphs">MAS. LEDGE</text>
<path d="M1225,868 C1232,860 1240,845 1250,848 C1258,850 1262,855 1265,852" fill="none" stroke="#e4e4e8" stroke-width="0.9"/>
<path d="M1226,876 C1230,885 1235,890 1249,884" fill="none" stroke="#e4e4e8" stroke-width="0.9"/>
<rect x="1261" y="483.2" width="209.3" height="6" fill="url(#st)"/>
<rect x="1464" y="483.2" width="6.3" height="301.2" fill="url(#st)"/>
<rect x="1464" y="827.8" width="6.3" height="33.6" fill="url(#st)"/>
<rect x="1436" y="855.1" width="34.3" height="6.3" fill="url(#st)"/>
<rect x="1254.7" y="855.1" width="39.2" height="6.3" fill="url(#st)"/>
<polyline points="1261,494.5 1459.8,494.5 1459.8,782.3 1464,782.3" fill="none" stroke="#27cfe0" stroke-width="1.2"/>
<polyline points="1464,829.2 1459.8,829.2 1459.8,850.2 1438.1,850.2" fill="none" stroke="#27cfe0" stroke-width="1.2"/>
<circle cx="1284" cy="516.2" r="16" fill="none" stroke="#d2d22c" stroke-width="1.3"/>
<text x="1284" y="519.5" font-size="10.5" fill="#e4e4e8" text-anchor="middle" textLength="14" lengthAdjust="spacingAndGlyphs">WH</text>
<text x="1366" y="627.6" font-size="21" fill="#c82ccc" text-anchor="middle" textLength="108" lengthAdjust="spacingAndGlyphs">WORKSHOP</text>
<line x1="1311.5" y1="631.3" x2="1419" y2="631.3" stroke="#c82ccc" stroke-width="1.2"/>
<text x="1363" y="649.5" font-size="15" fill="#e4e4e8" text-anchor="middle" textLength="78" lengthAdjust="spacingAndGlyphs">320 SQ. FT.</text>
<rect x="1293.9" y="729.8" width="142.1" height="125.3" fill="none" stroke="#d2d22c" stroke-width="1.3"/>
<line x1="1293.9" y1="852.3" x2="1436" y2="852.3" stroke="#d2d22c" stroke-width="1.2"/>
<polyline points="1293.9,861.4 1286.2,871.2 1443.7,871.2 1436,861.4" fill="none" stroke="#d2d22c" stroke-width="1.2"/>
<line x1="1261" y1="766.9" x2="1464" y2="766.9" stroke="#27cfe0" stroke-width="1.5"/>
<line x1="1256.5" y1="771.4" x2="1265.5" y2="762.4" stroke="#27cfe0" stroke-width="1.4"/>
<line x1="1459.5" y1="771.4" x2="1468.5" y2="762.4" stroke="#27cfe0" stroke-width="1.4"/>
<text x="1359.7" y="765.4" font-size="10.5" fill="#27cfe0" text-anchor="middle" textLength="22.5" lengthAdjust="spacingAndGlyphs">13'-4"</text>
<line x1="1284.8" y1="804" x2="1284.8" y2="851.6" stroke="#27cfe0" stroke-width="1.2"/>
<line x1="1280.3" y1="810.5" x2="1289.3" y2="801.5" stroke="#27cfe0" stroke-width="1.4"/>
<line x1="1280.3" y1="856.1" x2="1289.3" y2="847.1" stroke="#27cfe0" stroke-width="1.4"/>
<line x1="1268.7" y1="804" x2="1284.8" y2="804" stroke="#27cfe0" stroke-width="1.2"/>
<text x="1281.8" y="826.4" font-size="10.5" fill="#27cfe0" text-anchor="middle" transform="rotate(-90 1281.8 826.4)" textLength="17.6" lengthAdjust="spacingAndGlyphs">3'-0"</text>
<text x="1366" y="849.5" font-size="11" fill="#e4e4e8" text-anchor="middle" textLength="92" lengthAdjust="spacingAndGlyphs">9/0 X 8/0 O.H. DR.</text>
<line x1="1365.3" y1="848" x2="1365.3" y2="1283" stroke="#27cfe0" stroke-width="1.2"/>
<polyline points="1464,827.8 1435.3,796.3" fill="none" stroke="#d2d22c" stroke-width="1.8"/>
<path d="M1435.3,796.3 Q1445,786 1464,784.4" fill="none" stroke="#d2d22c" stroke-width="1"/>
<line x1="1471" y1="784.4" x2="1471" y2="827.8" stroke="#d2d22c" stroke-width="1.2"/>
<text x="1484.3" y="794.2" font-size="11" fill="#e4e4e8" text-anchor="middle" textLength="14" lengthAdjust="spacingAndGlyphs">2/8</text>
<text x="1487.8" y="803.3" font-size="11" fill="#e4e4e8" text-anchor="middle" textLength="30" lengthAdjust="spacingAndGlyphs">1/2 GL.</text>
<polyline points="1471,771.8 1501.8,771.8 1501.8,840.4 1471,840.4" fill="none" stroke="#d4282e" stroke-width="1.3" stroke-dasharray="8,6"/>
<text x="1418" y="932" font-size="11" fill="#e4e4e8" text-anchor="middle" textLength="104" lengthAdjust="spacingAndGlyphs">CANOPY &amp; BRACKETS</text>
<text x="1420" y="941.5" font-size="11" fill="#e4e4e8" text-anchor="middle" textLength="92" lengthAdjust="spacingAndGlyphs">ABOVE PER BLDR.</text>
<path d="M1366,932 C1350,930 1335,935 1325,945 C1313,957 1305,968 1297,980" fill="none" stroke="#e4e4e8" stroke-width="0.9"/>
<path d="M1477,931 C1495,928 1504,920 1500,905 C1496,890 1490,872 1483,863" fill="none" stroke="#e4e4e8" stroke-width="0.9"/>
<path d="M1420,926 C1430,918 1440,905 1433,898 C1428,893 1420,892 1412,893" fill="none" stroke="#e4e4e8" stroke-width="0.9"/>
</svg>
</body></html>
